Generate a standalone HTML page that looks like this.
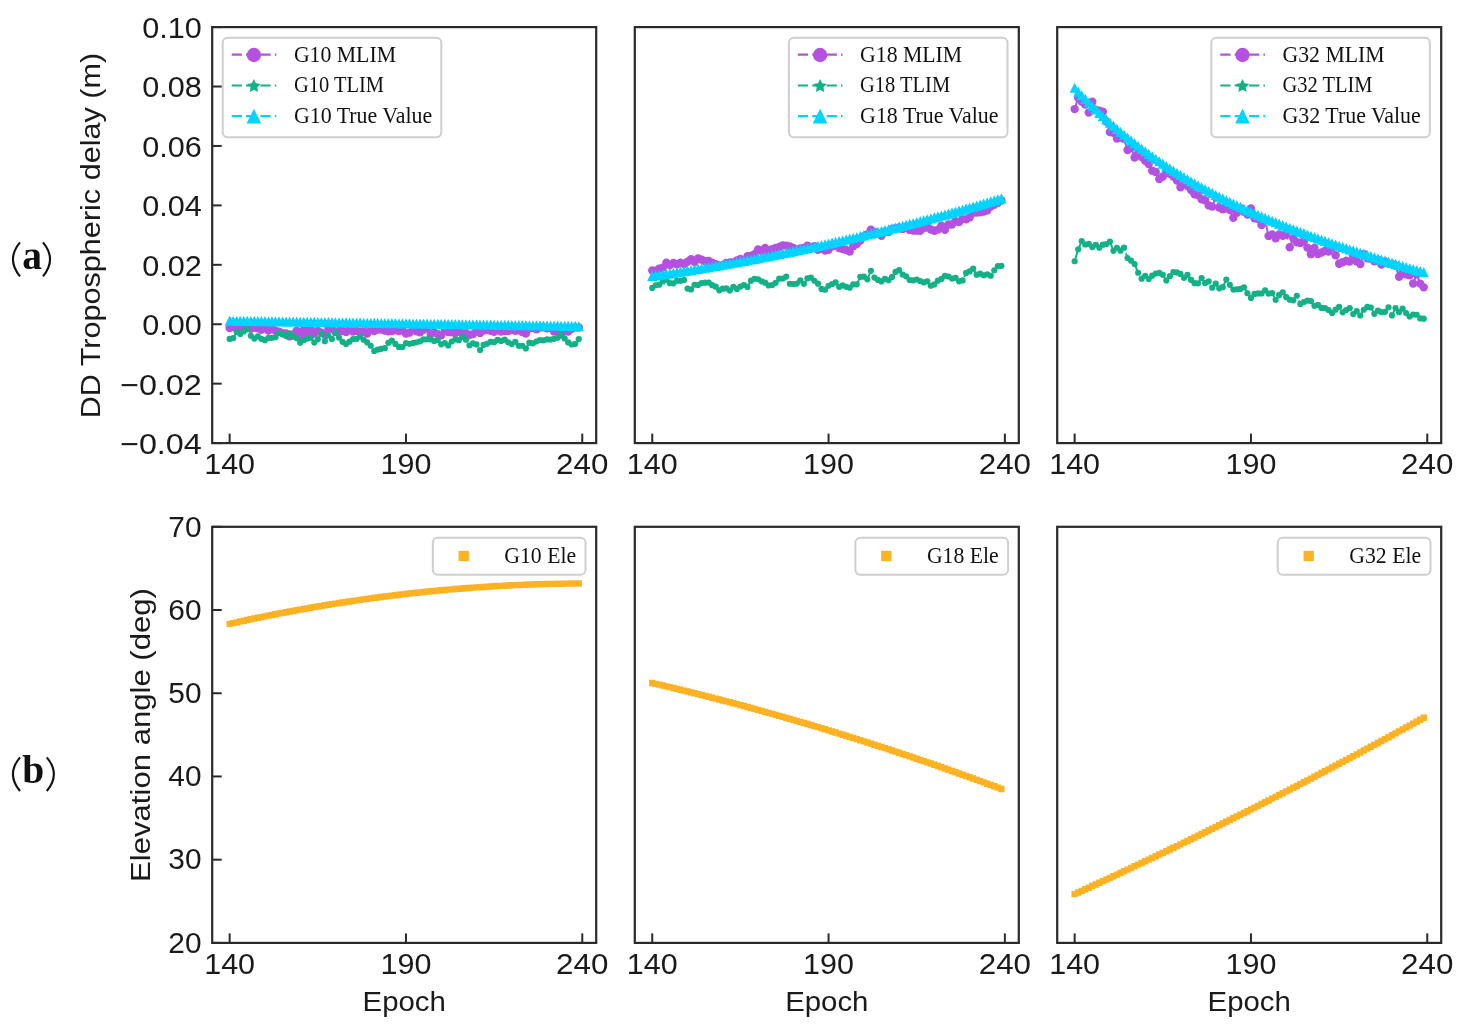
<!DOCTYPE html>
<html><head><meta charset="utf-8"><style>
html,body{margin:0;padding:0;background:#fff;width:1474px;height:1033px;overflow:hidden;font-family:"Liberation Sans",sans-serif}
svg{display:block;filter:blur(0.45px)}
</style></head><body>
<svg width="1474" height="1033" viewBox="0 0 1474 1033">
<rect width="1474" height="1033" fill="#fff"/>
<svg x="212.2" y="27.1" width="384" height="416" overflow="hidden"><g transform="translate(-212.2,-27.1)">
<polyline points="229.65,328.09 233.18,326.85 236.71,328.63 240.23,328.94 243.76,326.49 247.29,326.44 250.81,328.84 254.34,327.64 257.86,328.25 261.39,329.72 264.92,327.68 268.44,330.46 271.97,328.37 275.49,330.75 279.02,331.58 282.55,333.11 286.07,333.43 289.6,336.22 293.13,334.34 296.65,330.66 300.18,336.2 303.7,329.89 307.23,334.8 310.76,329.34 314.28,333.48 317.81,330.83 321.33,332.58 324.86,334.87 328.39,328.76 331.91,328.9 335.44,331.92 338.97,331.04 342.49,330.96 346.02,332.11 349.54,327.72 353.07,331.49 356.6,330.87 360.12,332.29 363.65,331.79 367.18,333.65 370.7,328.36 374.23,331.12 377.75,329.47 381.28,329.54 384.81,330.58 388.33,331.4 391.86,331.01 395.38,330.17 398.91,331.15 402.44,330.34 405.96,333.64 409.49,332.6 413.02,326.44 416.54,331.28 420.07,332.22 423.59,329.73 427.12,328.01 430.65,334.08 434.17,332.41 437.7,334.13 441.22,335.4 444.75,330.12 448.28,332.05 451.8,332.38 455.33,332.92 458.86,331.42 462.38,333.46 465.91,333.26 469.43,335.04 472.96,334.11 476.49,329 480.01,333.03 483.54,330.49 487.07,329.96 490.59,330.88 494.12,331.84 497.64,329.83 501.17,331.44 504.7,331.02 508.22,331.14 511.75,329.77 515.27,330.68 518.8,330.38 522.33,331.97 525.85,333.43 529.38,328.47 532.91,327.88 536.43,329.26 539.96,327.58 543.48,327.33 547.01,328.2 550.54,327.69 554.06,331.51 557.59,328.59 561.11,334.48 564.64,330.84 568.17,331.65 571.69,328.81 575.22,327.44 578.75,327.46" fill="none" stroke="#b451e0" stroke-width="2" stroke-dasharray="9.6 4.7"/>
<circle cx="229.65" cy="328.09" r="4.2" fill="#b451e0"/>
<circle cx="233.18" cy="326.85" r="4.2" fill="#b451e0"/>
<circle cx="236.71" cy="328.63" r="4.2" fill="#b451e0"/>
<circle cx="240.23" cy="328.94" r="4.2" fill="#b451e0"/>
<circle cx="243.76" cy="326.49" r="4.2" fill="#b451e0"/>
<circle cx="247.29" cy="326.44" r="4.2" fill="#b451e0"/>
<circle cx="250.81" cy="328.84" r="4.2" fill="#b451e0"/>
<circle cx="254.34" cy="327.64" r="4.2" fill="#b451e0"/>
<circle cx="257.86" cy="328.25" r="4.2" fill="#b451e0"/>
<circle cx="261.39" cy="329.72" r="4.2" fill="#b451e0"/>
<circle cx="264.92" cy="327.68" r="4.2" fill="#b451e0"/>
<circle cx="268.44" cy="330.46" r="4.2" fill="#b451e0"/>
<circle cx="271.97" cy="328.37" r="4.2" fill="#b451e0"/>
<circle cx="275.49" cy="330.75" r="4.2" fill="#b451e0"/>
<circle cx="279.02" cy="331.58" r="4.2" fill="#b451e0"/>
<circle cx="282.55" cy="333.11" r="4.2" fill="#b451e0"/>
<circle cx="286.07" cy="333.43" r="4.2" fill="#b451e0"/>
<circle cx="289.6" cy="336.22" r="4.2" fill="#b451e0"/>
<circle cx="293.13" cy="334.34" r="4.2" fill="#b451e0"/>
<circle cx="296.65" cy="330.66" r="4.2" fill="#b451e0"/>
<circle cx="300.18" cy="336.2" r="4.2" fill="#b451e0"/>
<circle cx="303.7" cy="329.89" r="4.2" fill="#b451e0"/>
<circle cx="307.23" cy="334.8" r="4.2" fill="#b451e0"/>
<circle cx="310.76" cy="329.34" r="4.2" fill="#b451e0"/>
<circle cx="314.28" cy="333.48" r="4.2" fill="#b451e0"/>
<circle cx="317.81" cy="330.83" r="4.2" fill="#b451e0"/>
<circle cx="321.33" cy="332.58" r="4.2" fill="#b451e0"/>
<circle cx="324.86" cy="334.87" r="4.2" fill="#b451e0"/>
<circle cx="328.39" cy="328.76" r="4.2" fill="#b451e0"/>
<circle cx="331.91" cy="328.9" r="4.2" fill="#b451e0"/>
<circle cx="335.44" cy="331.92" r="4.2" fill="#b451e0"/>
<circle cx="338.97" cy="331.04" r="4.2" fill="#b451e0"/>
<circle cx="342.49" cy="330.96" r="4.2" fill="#b451e0"/>
<circle cx="346.02" cy="332.11" r="4.2" fill="#b451e0"/>
<circle cx="349.54" cy="327.72" r="4.2" fill="#b451e0"/>
<circle cx="353.07" cy="331.49" r="4.2" fill="#b451e0"/>
<circle cx="356.6" cy="330.87" r="4.2" fill="#b451e0"/>
<circle cx="360.12" cy="332.29" r="4.2" fill="#b451e0"/>
<circle cx="363.65" cy="331.79" r="4.2" fill="#b451e0"/>
<circle cx="367.18" cy="333.65" r="4.2" fill="#b451e0"/>
<circle cx="370.7" cy="328.36" r="4.2" fill="#b451e0"/>
<circle cx="374.23" cy="331.12" r="4.2" fill="#b451e0"/>
<circle cx="377.75" cy="329.47" r="4.2" fill="#b451e0"/>
<circle cx="381.28" cy="329.54" r="4.2" fill="#b451e0"/>
<circle cx="384.81" cy="330.58" r="4.2" fill="#b451e0"/>
<circle cx="388.33" cy="331.4" r="4.2" fill="#b451e0"/>
<circle cx="391.86" cy="331.01" r="4.2" fill="#b451e0"/>
<circle cx="395.38" cy="330.17" r="4.2" fill="#b451e0"/>
<circle cx="398.91" cy="331.15" r="4.2" fill="#b451e0"/>
<circle cx="402.44" cy="330.34" r="4.2" fill="#b451e0"/>
<circle cx="405.96" cy="333.64" r="4.2" fill="#b451e0"/>
<circle cx="409.49" cy="332.6" r="4.2" fill="#b451e0"/>
<circle cx="413.02" cy="326.44" r="4.2" fill="#b451e0"/>
<circle cx="416.54" cy="331.28" r="4.2" fill="#b451e0"/>
<circle cx="420.07" cy="332.22" r="4.2" fill="#b451e0"/>
<circle cx="423.59" cy="329.73" r="4.2" fill="#b451e0"/>
<circle cx="427.12" cy="328.01" r="4.2" fill="#b451e0"/>
<circle cx="430.65" cy="334.08" r="4.2" fill="#b451e0"/>
<circle cx="434.17" cy="332.41" r="4.2" fill="#b451e0"/>
<circle cx="437.7" cy="334.13" r="4.2" fill="#b451e0"/>
<circle cx="441.22" cy="335.4" r="4.2" fill="#b451e0"/>
<circle cx="444.75" cy="330.12" r="4.2" fill="#b451e0"/>
<circle cx="448.28" cy="332.05" r="4.2" fill="#b451e0"/>
<circle cx="451.8" cy="332.38" r="4.2" fill="#b451e0"/>
<circle cx="455.33" cy="332.92" r="4.2" fill="#b451e0"/>
<circle cx="458.86" cy="331.42" r="4.2" fill="#b451e0"/>
<circle cx="462.38" cy="333.46" r="4.2" fill="#b451e0"/>
<circle cx="465.91" cy="333.26" r="4.2" fill="#b451e0"/>
<circle cx="469.43" cy="335.04" r="4.2" fill="#b451e0"/>
<circle cx="472.96" cy="334.11" r="4.2" fill="#b451e0"/>
<circle cx="476.49" cy="329" r="4.2" fill="#b451e0"/>
<circle cx="480.01" cy="333.03" r="4.2" fill="#b451e0"/>
<circle cx="483.54" cy="330.49" r="4.2" fill="#b451e0"/>
<circle cx="487.07" cy="329.96" r="4.2" fill="#b451e0"/>
<circle cx="490.59" cy="330.88" r="4.2" fill="#b451e0"/>
<circle cx="494.12" cy="331.84" r="4.2" fill="#b451e0"/>
<circle cx="497.64" cy="329.83" r="4.2" fill="#b451e0"/>
<circle cx="501.17" cy="331.44" r="4.2" fill="#b451e0"/>
<circle cx="504.7" cy="331.02" r="4.2" fill="#b451e0"/>
<circle cx="508.22" cy="331.14" r="4.2" fill="#b451e0"/>
<circle cx="511.75" cy="329.77" r="4.2" fill="#b451e0"/>
<circle cx="515.27" cy="330.68" r="4.2" fill="#b451e0"/>
<circle cx="518.8" cy="330.38" r="4.2" fill="#b451e0"/>
<circle cx="522.33" cy="331.97" r="4.2" fill="#b451e0"/>
<circle cx="525.85" cy="333.43" r="4.2" fill="#b451e0"/>
<circle cx="529.38" cy="328.47" r="4.2" fill="#b451e0"/>
<circle cx="532.91" cy="327.88" r="4.2" fill="#b451e0"/>
<circle cx="536.43" cy="329.26" r="4.2" fill="#b451e0"/>
<circle cx="539.96" cy="327.58" r="4.2" fill="#b451e0"/>
<circle cx="543.48" cy="327.33" r="4.2" fill="#b451e0"/>
<circle cx="547.01" cy="328.2" r="4.2" fill="#b451e0"/>
<circle cx="550.54" cy="327.69" r="4.2" fill="#b451e0"/>
<circle cx="554.06" cy="331.51" r="4.2" fill="#b451e0"/>
<circle cx="557.59" cy="328.59" r="4.2" fill="#b451e0"/>
<circle cx="561.11" cy="334.48" r="4.2" fill="#b451e0"/>
<circle cx="564.64" cy="330.84" r="4.2" fill="#b451e0"/>
<circle cx="568.17" cy="331.65" r="4.2" fill="#b451e0"/>
<circle cx="571.69" cy="328.81" r="4.2" fill="#b451e0"/>
<circle cx="575.22" cy="327.44" r="4.2" fill="#b451e0"/>
<circle cx="578.75" cy="327.46" r="4.2" fill="#b451e0"/>
<polyline points="229.65,338.97 233.18,338.21 236.71,332.02 240.23,333.88 243.76,331.45 247.29,329.28 250.81,335.73 254.34,338.59 257.86,336.39 261.39,338.79 264.92,340.2 268.44,337.95 271.97,337.81 275.49,337.23 279.02,333.09 282.55,334.36 286.07,336.07 289.6,333.44 293.13,336.65 296.65,338.03 300.18,342.72 303.7,340.27 307.23,338.57 310.76,337.86 314.28,342.61 317.81,339.35 321.33,333.58 324.86,341.17 328.39,335.48 331.91,338.89 335.44,332.14 338.97,337.55 342.49,341.8 346.02,343.88 349.54,341.64 353.07,339.01 356.6,338.81 360.12,336.71 363.65,339.77 367.18,342.39 370.7,345.77 374.23,350.95 377.75,349.55 381.28,348.85 384.81,348.17 388.33,342.78 391.86,340.55 395.38,343.93 398.91,346.88 402.44,347.03 405.96,343.13 409.49,343.87 413.02,343.08 416.54,342.27 420.07,341.36 423.59,339.41 427.12,339.28 430.65,339.3 434.17,340.96 437.7,340.17 441.22,344.28 444.75,343.09 448.28,345.4 451.8,341.48 455.33,339.34 458.86,340.2 462.38,336.97 465.91,339.64 469.43,345.28 472.96,343.39 476.49,344.4 480.01,350.05 483.54,344.86 487.07,343.74 490.59,341.8 494.12,342.19 497.64,339.93 501.17,340.93 504.7,339.66 508.22,342.34 511.75,344.11 515.27,341.88 518.8,345.81 522.33,345.74 525.85,348.5 529.38,342.69 532.91,343.34 536.43,341.48 539.96,339.99 543.48,340.31 547.01,339.45 550.54,339.62 554.06,338.86 557.59,337.73 561.11,334.46 564.64,338.41 568.17,342.47 571.69,344.51 575.22,343.84 578.75,339.09" fill="none" stroke="#13b187" stroke-width="2" stroke-dasharray="9.6 4.7"/>
<circle cx="229.65" cy="338.97" r="3.1" fill="#13b187"/>
<circle cx="233.18" cy="338.21" r="3.1" fill="#13b187"/>
<circle cx="236.71" cy="332.02" r="3.1" fill="#13b187"/>
<circle cx="240.23" cy="333.88" r="3.1" fill="#13b187"/>
<circle cx="243.76" cy="331.45" r="3.1" fill="#13b187"/>
<circle cx="247.29" cy="329.28" r="3.1" fill="#13b187"/>
<circle cx="250.81" cy="335.73" r="3.1" fill="#13b187"/>
<circle cx="254.34" cy="338.59" r="3.1" fill="#13b187"/>
<circle cx="257.86" cy="336.39" r="3.1" fill="#13b187"/>
<circle cx="261.39" cy="338.79" r="3.1" fill="#13b187"/>
<circle cx="264.92" cy="340.2" r="3.1" fill="#13b187"/>
<circle cx="268.44" cy="337.95" r="3.1" fill="#13b187"/>
<circle cx="271.97" cy="337.81" r="3.1" fill="#13b187"/>
<circle cx="275.49" cy="337.23" r="3.1" fill="#13b187"/>
<circle cx="279.02" cy="333.09" r="3.1" fill="#13b187"/>
<circle cx="282.55" cy="334.36" r="3.1" fill="#13b187"/>
<circle cx="286.07" cy="336.07" r="3.1" fill="#13b187"/>
<circle cx="289.6" cy="333.44" r="3.1" fill="#13b187"/>
<circle cx="293.13" cy="336.65" r="3.1" fill="#13b187"/>
<circle cx="296.65" cy="338.03" r="3.1" fill="#13b187"/>
<circle cx="300.18" cy="342.72" r="3.1" fill="#13b187"/>
<circle cx="303.7" cy="340.27" r="3.1" fill="#13b187"/>
<circle cx="307.23" cy="338.57" r="3.1" fill="#13b187"/>
<circle cx="310.76" cy="337.86" r="3.1" fill="#13b187"/>
<circle cx="314.28" cy="342.61" r="3.1" fill="#13b187"/>
<circle cx="317.81" cy="339.35" r="3.1" fill="#13b187"/>
<circle cx="321.33" cy="333.58" r="3.1" fill="#13b187"/>
<circle cx="324.86" cy="341.17" r="3.1" fill="#13b187"/>
<circle cx="328.39" cy="335.48" r="3.1" fill="#13b187"/>
<circle cx="331.91" cy="338.89" r="3.1" fill="#13b187"/>
<circle cx="335.44" cy="332.14" r="3.1" fill="#13b187"/>
<circle cx="338.97" cy="337.55" r="3.1" fill="#13b187"/>
<circle cx="342.49" cy="341.8" r="3.1" fill="#13b187"/>
<circle cx="346.02" cy="343.88" r="3.1" fill="#13b187"/>
<circle cx="349.54" cy="341.64" r="3.1" fill="#13b187"/>
<circle cx="353.07" cy="339.01" r="3.1" fill="#13b187"/>
<circle cx="356.6" cy="338.81" r="3.1" fill="#13b187"/>
<circle cx="360.12" cy="336.71" r="3.1" fill="#13b187"/>
<circle cx="363.65" cy="339.77" r="3.1" fill="#13b187"/>
<circle cx="367.18" cy="342.39" r="3.1" fill="#13b187"/>
<circle cx="370.7" cy="345.77" r="3.1" fill="#13b187"/>
<circle cx="374.23" cy="350.95" r="3.1" fill="#13b187"/>
<circle cx="377.75" cy="349.55" r="3.1" fill="#13b187"/>
<circle cx="381.28" cy="348.85" r="3.1" fill="#13b187"/>
<circle cx="384.81" cy="348.17" r="3.1" fill="#13b187"/>
<circle cx="388.33" cy="342.78" r="3.1" fill="#13b187"/>
<circle cx="391.86" cy="340.55" r="3.1" fill="#13b187"/>
<circle cx="395.38" cy="343.93" r="3.1" fill="#13b187"/>
<circle cx="398.91" cy="346.88" r="3.1" fill="#13b187"/>
<circle cx="402.44" cy="347.03" r="3.1" fill="#13b187"/>
<circle cx="405.96" cy="343.13" r="3.1" fill="#13b187"/>
<circle cx="409.49" cy="343.87" r="3.1" fill="#13b187"/>
<circle cx="413.02" cy="343.08" r="3.1" fill="#13b187"/>
<circle cx="416.54" cy="342.27" r="3.1" fill="#13b187"/>
<circle cx="420.07" cy="341.36" r="3.1" fill="#13b187"/>
<circle cx="423.59" cy="339.41" r="3.1" fill="#13b187"/>
<circle cx="427.12" cy="339.28" r="3.1" fill="#13b187"/>
<circle cx="430.65" cy="339.3" r="3.1" fill="#13b187"/>
<circle cx="434.17" cy="340.96" r="3.1" fill="#13b187"/>
<circle cx="437.7" cy="340.17" r="3.1" fill="#13b187"/>
<circle cx="441.22" cy="344.28" r="3.1" fill="#13b187"/>
<circle cx="444.75" cy="343.09" r="3.1" fill="#13b187"/>
<circle cx="448.28" cy="345.4" r="3.1" fill="#13b187"/>
<circle cx="451.8" cy="341.48" r="3.1" fill="#13b187"/>
<circle cx="455.33" cy="339.34" r="3.1" fill="#13b187"/>
<circle cx="458.86" cy="340.2" r="3.1" fill="#13b187"/>
<circle cx="462.38" cy="336.97" r="3.1" fill="#13b187"/>
<circle cx="465.91" cy="339.64" r="3.1" fill="#13b187"/>
<circle cx="469.43" cy="345.28" r="3.1" fill="#13b187"/>
<circle cx="472.96" cy="343.39" r="3.1" fill="#13b187"/>
<circle cx="476.49" cy="344.4" r="3.1" fill="#13b187"/>
<circle cx="480.01" cy="350.05" r="3.1" fill="#13b187"/>
<circle cx="483.54" cy="344.86" r="3.1" fill="#13b187"/>
<circle cx="487.07" cy="343.74" r="3.1" fill="#13b187"/>
<circle cx="490.59" cy="341.8" r="3.1" fill="#13b187"/>
<circle cx="494.12" cy="342.19" r="3.1" fill="#13b187"/>
<circle cx="497.64" cy="339.93" r="3.1" fill="#13b187"/>
<circle cx="501.17" cy="340.93" r="3.1" fill="#13b187"/>
<circle cx="504.7" cy="339.66" r="3.1" fill="#13b187"/>
<circle cx="508.22" cy="342.34" r="3.1" fill="#13b187"/>
<circle cx="511.75" cy="344.11" r="3.1" fill="#13b187"/>
<circle cx="515.27" cy="341.88" r="3.1" fill="#13b187"/>
<circle cx="518.8" cy="345.81" r="3.1" fill="#13b187"/>
<circle cx="522.33" cy="345.74" r="3.1" fill="#13b187"/>
<circle cx="525.85" cy="348.5" r="3.1" fill="#13b187"/>
<circle cx="529.38" cy="342.69" r="3.1" fill="#13b187"/>
<circle cx="532.91" cy="343.34" r="3.1" fill="#13b187"/>
<circle cx="536.43" cy="341.48" r="3.1" fill="#13b187"/>
<circle cx="539.96" cy="339.99" r="3.1" fill="#13b187"/>
<circle cx="543.48" cy="340.31" r="3.1" fill="#13b187"/>
<circle cx="547.01" cy="339.45" r="3.1" fill="#13b187"/>
<circle cx="550.54" cy="339.62" r="3.1" fill="#13b187"/>
<circle cx="554.06" cy="338.86" r="3.1" fill="#13b187"/>
<circle cx="557.59" cy="337.73" r="3.1" fill="#13b187"/>
<circle cx="561.11" cy="334.46" r="3.1" fill="#13b187"/>
<circle cx="564.64" cy="338.41" r="3.1" fill="#13b187"/>
<circle cx="568.17" cy="342.47" r="3.1" fill="#13b187"/>
<circle cx="571.69" cy="344.51" r="3.1" fill="#13b187"/>
<circle cx="575.22" cy="343.84" r="3.1" fill="#13b187"/>
<circle cx="578.75" cy="339.09" r="3.1" fill="#13b187"/>
<polyline points="229.65,320.68 233.18,320.73 236.71,320.79 240.23,320.84 243.76,320.89 247.29,320.95 250.81,321 254.34,321.06 257.86,321.11 261.39,321.16 264.92,321.22 268.44,321.27 271.97,321.33 275.49,321.38 279.02,321.43 282.55,321.49 286.07,321.54 289.6,321.6 293.13,321.65 296.65,321.7 300.18,321.76 303.7,321.81 307.23,321.87 310.76,321.92 314.28,321.97 317.81,322.03 321.33,322.08 324.86,322.14 328.39,322.19 331.91,322.24 335.44,322.3 338.97,322.35 342.49,322.41 346.02,322.46 349.54,322.51 353.07,322.57 356.6,322.62 360.12,322.68 363.65,322.73 367.18,322.78 370.7,322.84 374.23,322.89 377.75,322.95 381.28,323 384.81,323.05 388.33,323.11 391.86,323.16 395.38,323.22 398.91,323.27 402.44,323.32 405.96,323.38 409.49,323.43 413.02,323.49 416.54,323.54 420.07,323.59 423.59,323.65 427.12,323.7 430.65,323.76 434.17,323.81 437.7,323.86 441.22,323.92 444.75,323.97 448.28,324.03 451.8,324.08 455.33,324.13 458.86,324.19 462.38,324.24 465.91,324.3 469.43,324.35 472.96,324.4 476.49,324.46 480.01,324.51 483.54,324.57 487.07,324.62 490.59,324.68 494.12,324.73 497.64,324.78 501.17,324.84 504.7,324.89 508.22,324.95 511.75,325 515.27,325.05 518.8,325.11 522.33,325.16 525.85,325.22 529.38,325.27 532.91,325.32 536.43,325.38 539.96,325.43 543.48,325.49 547.01,325.54 550.54,325.59 554.06,325.65 557.59,325.7 561.11,325.76 564.64,325.81 568.17,325.86 571.69,325.92 575.22,325.97 578.75,326.03" fill="none" stroke="#00d3ff" stroke-width="2" stroke-dasharray="9.6 4.7"/>
<path d="M229.65 315.58L224.55 325.78L234.75 325.78ZM233.18 315.63L228.08 325.83L238.28 325.83ZM236.71 315.69L231.61 325.89L241.81 325.89ZM240.23 315.74L235.13 325.94L245.33 325.94ZM243.76 315.79L238.66 325.99L248.86 325.99ZM247.29 315.85L242.19 326.05L252.39 326.05ZM250.81 315.9L245.71 326.1L255.91 326.1ZM254.34 315.96L249.24 326.16L259.44 326.16ZM257.86 316.01L252.76 326.21L262.96 326.21ZM261.39 316.06L256.29 326.26L266.49 326.26ZM264.92 316.12L259.82 326.32L270.02 326.32ZM268.44 316.17L263.34 326.37L273.54 326.37ZM271.97 316.23L266.87 326.43L277.07 326.43ZM275.49 316.28L270.39 326.48L280.59 326.48ZM279.02 316.33L273.92 326.53L284.12 326.53ZM282.55 316.39L277.45 326.59L287.65 326.59ZM286.07 316.44L280.97 326.64L291.17 326.64ZM289.6 316.5L284.5 326.7L294.7 326.7ZM293.13 316.55L288.03 326.75L298.23 326.75ZM296.65 316.6L291.55 326.8L301.75 326.8ZM300.18 316.66L295.08 326.86L305.28 326.86ZM303.7 316.71L298.6 326.91L308.8 326.91ZM307.23 316.77L302.13 326.97L312.33 326.97ZM310.76 316.82L305.66 327.02L315.86 327.02ZM314.28 316.87L309.18 327.07L319.38 327.07ZM317.81 316.93L312.71 327.13L322.91 327.13ZM321.33 316.98L316.23 327.18L326.43 327.18ZM324.86 317.04L319.76 327.24L329.96 327.24ZM328.39 317.09L323.29 327.29L333.49 327.29ZM331.91 317.14L326.81 327.34L337.01 327.34ZM335.44 317.2L330.34 327.4L340.54 327.4ZM338.97 317.25L333.87 327.45L344.07 327.45ZM342.49 317.31L337.39 327.51L347.59 327.51ZM346.02 317.36L340.92 327.56L351.12 327.56ZM349.54 317.41L344.44 327.61L354.64 327.61ZM353.07 317.47L347.97 327.67L358.17 327.67ZM356.6 317.52L351.5 327.72L361.7 327.72ZM360.12 317.58L355.02 327.78L365.22 327.78ZM363.65 317.63L358.55 327.83L368.75 327.83ZM367.18 317.68L362.08 327.88L372.28 327.88ZM370.7 317.74L365.6 327.94L375.8 327.94ZM374.23 317.79L369.13 327.99L379.33 327.99ZM377.75 317.85L372.65 328.05L382.85 328.05ZM381.28 317.9L376.18 328.1L386.38 328.1ZM384.81 317.95L379.71 328.15L389.91 328.15ZM388.33 318.01L383.23 328.21L393.43 328.21ZM391.86 318.06L386.76 328.26L396.96 328.26ZM395.38 318.12L390.28 328.32L400.48 328.32ZM398.91 318.17L393.81 328.37L404.01 328.37ZM402.44 318.22L397.34 328.42L407.54 328.42ZM405.96 318.28L400.86 328.48L411.06 328.48ZM409.49 318.33L404.39 328.53L414.59 328.53ZM413.02 318.39L407.92 328.59L418.12 328.59ZM416.54 318.44L411.44 328.64L421.64 328.64ZM420.07 318.49L414.97 328.69L425.17 328.69ZM423.59 318.55L418.49 328.75L428.69 328.75ZM427.12 318.6L422.02 328.8L432.22 328.8ZM430.65 318.66L425.55 328.86L435.75 328.86ZM434.17 318.71L429.07 328.91L439.27 328.91ZM437.7 318.76L432.6 328.96L442.8 328.96ZM441.22 318.82L436.12 329.02L446.32 329.02ZM444.75 318.87L439.65 329.07L449.85 329.07ZM448.28 318.93L443.18 329.13L453.38 329.13ZM451.8 318.98L446.7 329.18L456.9 329.18ZM455.33 319.03L450.23 329.23L460.43 329.23ZM458.86 319.09L453.76 329.29L463.96 329.29ZM462.38 319.14L457.28 329.34L467.48 329.34ZM465.91 319.2L460.81 329.4L471.01 329.4ZM469.43 319.25L464.33 329.45L474.53 329.45ZM472.96 319.3L467.86 329.5L478.06 329.5ZM476.49 319.36L471.39 329.56L481.59 329.56ZM480.01 319.41L474.91 329.61L485.11 329.61ZM483.54 319.47L478.44 329.67L488.64 329.67ZM487.07 319.52L481.97 329.72L492.17 329.72ZM490.59 319.58L485.49 329.78L495.69 329.78ZM494.12 319.63L489.02 329.83L499.22 329.83ZM497.64 319.68L492.54 329.88L502.74 329.88ZM501.17 319.74L496.07 329.94L506.27 329.94ZM504.7 319.79L499.6 329.99L509.8 329.99ZM508.22 319.85L503.12 330.05L513.32 330.05ZM511.75 319.9L506.65 330.1L516.85 330.1ZM515.27 319.95L510.17 330.15L520.37 330.15ZM518.8 320.01L513.7 330.21L523.9 330.21ZM522.33 320.06L517.23 330.26L527.43 330.26ZM525.85 320.12L520.75 330.32L530.95 330.32ZM529.38 320.17L524.28 330.37L534.48 330.37ZM532.91 320.22L527.81 330.42L538.01 330.42ZM536.43 320.28L531.33 330.48L541.53 330.48ZM539.96 320.33L534.86 330.53L545.06 330.53ZM543.48 320.39L538.38 330.59L548.58 330.59ZM547.01 320.44L541.91 330.64L552.11 330.64ZM550.54 320.49L545.44 330.69L555.64 330.69ZM554.06 320.55L548.96 330.75L559.16 330.75ZM557.59 320.6L552.49 330.8L562.69 330.8ZM561.11 320.66L556.01 330.86L566.21 330.86ZM564.64 320.71L559.54 330.91L569.74 330.91ZM568.17 320.76L563.07 330.96L573.27 330.96ZM571.69 320.82L566.59 331.02L576.79 331.02ZM575.22 320.87L570.12 331.07L580.32 331.07ZM578.75 320.93L573.65 331.13L583.85 331.13Z" fill="#00d3ff"/>
</g></svg>
<svg x="634.8" y="27.1" width="384" height="416" overflow="hidden"><g transform="translate(-634.8,-27.1)">
<polyline points="652.25,270.57 655.78,270.76 659.31,268.59 662.83,267.58 666.36,262.63 669.89,265.11 673.41,263 676.94,264.24 680.46,262.71 683.99,264.03 687.52,261.68 691.04,259.29 694.57,261.96 698.09,258.55 701.62,259.67 705.15,261.25 708.67,260.93 712.2,262.63 715.73,264.1 719.25,265.78 722.78,265.22 726.3,262.96 729.83,262.45 733.36,262.18 736.88,260.43 740.41,259.01 743.93,260.49 747.46,256.25 750.99,255.84 754.51,254.17 758.04,249.36 761.57,251.1 765.09,248.05 768.62,251.39 772.14,249.31 775.67,248.03 779.2,247.03 782.72,245.34 786.25,245.7 789.78,246.36 793.3,247.97 796.83,249.57 800.35,248.35 803.88,247.84 807.41,245.82 810.93,247.01 814.46,246.09 817.98,249.8 821.51,248.18 825.04,250.43 828.56,249.86 832.09,246.31 835.62,244.4 839.14,248.03 842.67,248.98 846.19,250.05 849.72,251.58 853.25,246.17 856.77,244.11 860.3,240.45 863.82,236.28 867.35,234.31 870.88,229.79 874.4,231.92 877.93,233.55 881.46,235.7 884.98,231.54 888.51,231.98 892.03,229.07 895.56,228.23 899.09,227.54 902.61,229.06 906.14,226.71 909.67,229.91 913.19,230.59 916.72,230.67 920.24,230.88 923.77,228.08 927.3,227.2 930.82,229.56 934.35,230.74 937.87,229.58 941.4,225.72 944.93,229.87 948.45,224.54 951.98,224.45 955.51,221.22 959.03,222.14 962.56,219.08 966.08,219.35 969.61,217.41 973.14,212.83 976.66,212.47 980.19,212.28 983.71,211.51 987.24,210.41 990.77,206.57 994.29,204.83 997.82,202.72 1001.35,200.53" fill="none" stroke="#b451e0" stroke-width="2" stroke-dasharray="9.6 4.7"/>
<circle cx="652.25" cy="270.57" r="4.2" fill="#b451e0"/>
<circle cx="655.78" cy="270.76" r="4.2" fill="#b451e0"/>
<circle cx="659.31" cy="268.59" r="4.2" fill="#b451e0"/>
<circle cx="662.83" cy="267.58" r="4.2" fill="#b451e0"/>
<circle cx="666.36" cy="262.63" r="4.2" fill="#b451e0"/>
<circle cx="669.89" cy="265.11" r="4.2" fill="#b451e0"/>
<circle cx="673.41" cy="263" r="4.2" fill="#b451e0"/>
<circle cx="676.94" cy="264.24" r="4.2" fill="#b451e0"/>
<circle cx="680.46" cy="262.71" r="4.2" fill="#b451e0"/>
<circle cx="683.99" cy="264.03" r="4.2" fill="#b451e0"/>
<circle cx="687.52" cy="261.68" r="4.2" fill="#b451e0"/>
<circle cx="691.04" cy="259.29" r="4.2" fill="#b451e0"/>
<circle cx="694.57" cy="261.96" r="4.2" fill="#b451e0"/>
<circle cx="698.09" cy="258.55" r="4.2" fill="#b451e0"/>
<circle cx="701.62" cy="259.67" r="4.2" fill="#b451e0"/>
<circle cx="705.15" cy="261.25" r="4.2" fill="#b451e0"/>
<circle cx="708.67" cy="260.93" r="4.2" fill="#b451e0"/>
<circle cx="712.2" cy="262.63" r="4.2" fill="#b451e0"/>
<circle cx="715.73" cy="264.1" r="4.2" fill="#b451e0"/>
<circle cx="719.25" cy="265.78" r="4.2" fill="#b451e0"/>
<circle cx="722.78" cy="265.22" r="4.2" fill="#b451e0"/>
<circle cx="726.3" cy="262.96" r="4.2" fill="#b451e0"/>
<circle cx="729.83" cy="262.45" r="4.2" fill="#b451e0"/>
<circle cx="733.36" cy="262.18" r="4.2" fill="#b451e0"/>
<circle cx="736.88" cy="260.43" r="4.2" fill="#b451e0"/>
<circle cx="740.41" cy="259.01" r="4.2" fill="#b451e0"/>
<circle cx="743.93" cy="260.49" r="4.2" fill="#b451e0"/>
<circle cx="747.46" cy="256.25" r="4.2" fill="#b451e0"/>
<circle cx="750.99" cy="255.84" r="4.2" fill="#b451e0"/>
<circle cx="754.51" cy="254.17" r="4.2" fill="#b451e0"/>
<circle cx="758.04" cy="249.36" r="4.2" fill="#b451e0"/>
<circle cx="761.57" cy="251.1" r="4.2" fill="#b451e0"/>
<circle cx="765.09" cy="248.05" r="4.2" fill="#b451e0"/>
<circle cx="768.62" cy="251.39" r="4.2" fill="#b451e0"/>
<circle cx="772.14" cy="249.31" r="4.2" fill="#b451e0"/>
<circle cx="775.67" cy="248.03" r="4.2" fill="#b451e0"/>
<circle cx="779.2" cy="247.03" r="4.2" fill="#b451e0"/>
<circle cx="782.72" cy="245.34" r="4.2" fill="#b451e0"/>
<circle cx="786.25" cy="245.7" r="4.2" fill="#b451e0"/>
<circle cx="789.78" cy="246.36" r="4.2" fill="#b451e0"/>
<circle cx="793.3" cy="247.97" r="4.2" fill="#b451e0"/>
<circle cx="796.83" cy="249.57" r="4.2" fill="#b451e0"/>
<circle cx="800.35" cy="248.35" r="4.2" fill="#b451e0"/>
<circle cx="803.88" cy="247.84" r="4.2" fill="#b451e0"/>
<circle cx="807.41" cy="245.82" r="4.2" fill="#b451e0"/>
<circle cx="810.93" cy="247.01" r="4.2" fill="#b451e0"/>
<circle cx="814.46" cy="246.09" r="4.2" fill="#b451e0"/>
<circle cx="817.98" cy="249.8" r="4.2" fill="#b451e0"/>
<circle cx="821.51" cy="248.18" r="4.2" fill="#b451e0"/>
<circle cx="825.04" cy="250.43" r="4.2" fill="#b451e0"/>
<circle cx="828.56" cy="249.86" r="4.2" fill="#b451e0"/>
<circle cx="832.09" cy="246.31" r="4.2" fill="#b451e0"/>
<circle cx="835.62" cy="244.4" r="4.2" fill="#b451e0"/>
<circle cx="839.14" cy="248.03" r="4.2" fill="#b451e0"/>
<circle cx="842.67" cy="248.98" r="4.2" fill="#b451e0"/>
<circle cx="846.19" cy="250.05" r="4.2" fill="#b451e0"/>
<circle cx="849.72" cy="251.58" r="4.2" fill="#b451e0"/>
<circle cx="853.25" cy="246.17" r="4.2" fill="#b451e0"/>
<circle cx="856.77" cy="244.11" r="4.2" fill="#b451e0"/>
<circle cx="860.3" cy="240.45" r="4.2" fill="#b451e0"/>
<circle cx="863.82" cy="236.28" r="4.2" fill="#b451e0"/>
<circle cx="867.35" cy="234.31" r="4.2" fill="#b451e0"/>
<circle cx="870.88" cy="229.79" r="4.2" fill="#b451e0"/>
<circle cx="874.4" cy="231.92" r="4.2" fill="#b451e0"/>
<circle cx="877.93" cy="233.55" r="4.2" fill="#b451e0"/>
<circle cx="881.46" cy="235.7" r="4.2" fill="#b451e0"/>
<circle cx="884.98" cy="231.54" r="4.2" fill="#b451e0"/>
<circle cx="888.51" cy="231.98" r="4.2" fill="#b451e0"/>
<circle cx="892.03" cy="229.07" r="4.2" fill="#b451e0"/>
<circle cx="895.56" cy="228.23" r="4.2" fill="#b451e0"/>
<circle cx="899.09" cy="227.54" r="4.2" fill="#b451e0"/>
<circle cx="902.61" cy="229.06" r="4.2" fill="#b451e0"/>
<circle cx="906.14" cy="226.71" r="4.2" fill="#b451e0"/>
<circle cx="909.67" cy="229.91" r="4.2" fill="#b451e0"/>
<circle cx="913.19" cy="230.59" r="4.2" fill="#b451e0"/>
<circle cx="916.72" cy="230.67" r="4.2" fill="#b451e0"/>
<circle cx="920.24" cy="230.88" r="4.2" fill="#b451e0"/>
<circle cx="923.77" cy="228.08" r="4.2" fill="#b451e0"/>
<circle cx="927.3" cy="227.2" r="4.2" fill="#b451e0"/>
<circle cx="930.82" cy="229.56" r="4.2" fill="#b451e0"/>
<circle cx="934.35" cy="230.74" r="4.2" fill="#b451e0"/>
<circle cx="937.87" cy="229.58" r="4.2" fill="#b451e0"/>
<circle cx="941.4" cy="225.72" r="4.2" fill="#b451e0"/>
<circle cx="944.93" cy="229.87" r="4.2" fill="#b451e0"/>
<circle cx="948.45" cy="224.54" r="4.2" fill="#b451e0"/>
<circle cx="951.98" cy="224.45" r="4.2" fill="#b451e0"/>
<circle cx="955.51" cy="221.22" r="4.2" fill="#b451e0"/>
<circle cx="959.03" cy="222.14" r="4.2" fill="#b451e0"/>
<circle cx="962.56" cy="219.08" r="4.2" fill="#b451e0"/>
<circle cx="966.08" cy="219.35" r="4.2" fill="#b451e0"/>
<circle cx="969.61" cy="217.41" r="4.2" fill="#b451e0"/>
<circle cx="973.14" cy="212.83" r="4.2" fill="#b451e0"/>
<circle cx="976.66" cy="212.47" r="4.2" fill="#b451e0"/>
<circle cx="980.19" cy="212.28" r="4.2" fill="#b451e0"/>
<circle cx="983.71" cy="211.51" r="4.2" fill="#b451e0"/>
<circle cx="987.24" cy="210.41" r="4.2" fill="#b451e0"/>
<circle cx="990.77" cy="206.57" r="4.2" fill="#b451e0"/>
<circle cx="994.29" cy="204.83" r="4.2" fill="#b451e0"/>
<circle cx="997.82" cy="202.72" r="4.2" fill="#b451e0"/>
<circle cx="1001.35" cy="200.53" r="4.2" fill="#b451e0"/>
<polyline points="652.25,287.88 655.78,285.23 659.31,284.71 662.83,281.49 666.36,279.83 669.89,283.15 673.41,283.35 676.94,280.77 680.46,280.79 683.99,279.95 687.52,288.59 691.04,289.41 694.57,284.75 698.09,285 701.62,283.04 705.15,282.71 708.67,282.62 712.2,285.21 715.73,286.7 719.25,290.32 722.78,288.68 726.3,288.41 729.83,290.46 733.36,286.73 736.88,288.89 740.41,286.62 743.93,284.98 747.46,286.92 750.99,280.65 754.51,278.76 758.04,279.26 761.57,281.3 765.09,282.68 768.62,285.42 772.14,285 775.67,282.78 779.2,278.63 782.72,278.51 786.25,276.61 789.78,283.73 793.3,284.02 796.83,283.53 800.35,280.36 803.88,283.86 807.41,278.34 810.93,277.68 814.46,280.73 817.98,283.65 821.51,288.94 825.04,289.69 828.56,285.73 832.09,284.08 835.62,282.45 839.14,286.87 842.67,285.4 846.19,286.87 849.72,287.71 853.25,284.47 856.77,284.34 860.3,276.78 863.82,276.68 867.35,279.28 870.88,270.86 874.4,277.56 877.93,279.97 881.46,281.4 884.98,278.81 888.51,280.24 892.03,276.93 895.56,271.88 899.09,270.21 902.61,274.56 906.14,276.36 909.67,279.99 913.19,280.32 916.72,279.5 920.24,281.07 923.77,282.47 927.3,281.35 930.82,285.75 934.35,284.42 937.87,280.7 941.4,278.91 944.93,275.81 948.45,276.49 951.98,278.6 955.51,277.85 959.03,281.33 962.56,280.47 966.08,272.97 969.61,271.4 973.14,268.69 976.66,274.64 980.19,273.66 983.71,275.27 987.24,274.34 990.77,275.74 994.29,270.27 997.82,266.22 1001.35,265.8" fill="none" stroke="#13b187" stroke-width="2" stroke-dasharray="9.6 4.7"/>
<circle cx="652.25" cy="287.88" r="3.1" fill="#13b187"/>
<circle cx="655.78" cy="285.23" r="3.1" fill="#13b187"/>
<circle cx="659.31" cy="284.71" r="3.1" fill="#13b187"/>
<circle cx="662.83" cy="281.49" r="3.1" fill="#13b187"/>
<circle cx="666.36" cy="279.83" r="3.1" fill="#13b187"/>
<circle cx="669.89" cy="283.15" r="3.1" fill="#13b187"/>
<circle cx="673.41" cy="283.35" r="3.1" fill="#13b187"/>
<circle cx="676.94" cy="280.77" r="3.1" fill="#13b187"/>
<circle cx="680.46" cy="280.79" r="3.1" fill="#13b187"/>
<circle cx="683.99" cy="279.95" r="3.1" fill="#13b187"/>
<circle cx="687.52" cy="288.59" r="3.1" fill="#13b187"/>
<circle cx="691.04" cy="289.41" r="3.1" fill="#13b187"/>
<circle cx="694.57" cy="284.75" r="3.1" fill="#13b187"/>
<circle cx="698.09" cy="285" r="3.1" fill="#13b187"/>
<circle cx="701.62" cy="283.04" r="3.1" fill="#13b187"/>
<circle cx="705.15" cy="282.71" r="3.1" fill="#13b187"/>
<circle cx="708.67" cy="282.62" r="3.1" fill="#13b187"/>
<circle cx="712.2" cy="285.21" r="3.1" fill="#13b187"/>
<circle cx="715.73" cy="286.7" r="3.1" fill="#13b187"/>
<circle cx="719.25" cy="290.32" r="3.1" fill="#13b187"/>
<circle cx="722.78" cy="288.68" r="3.1" fill="#13b187"/>
<circle cx="726.3" cy="288.41" r="3.1" fill="#13b187"/>
<circle cx="729.83" cy="290.46" r="3.1" fill="#13b187"/>
<circle cx="733.36" cy="286.73" r="3.1" fill="#13b187"/>
<circle cx="736.88" cy="288.89" r="3.1" fill="#13b187"/>
<circle cx="740.41" cy="286.62" r="3.1" fill="#13b187"/>
<circle cx="743.93" cy="284.98" r="3.1" fill="#13b187"/>
<circle cx="747.46" cy="286.92" r="3.1" fill="#13b187"/>
<circle cx="750.99" cy="280.65" r="3.1" fill="#13b187"/>
<circle cx="754.51" cy="278.76" r="3.1" fill="#13b187"/>
<circle cx="758.04" cy="279.26" r="3.1" fill="#13b187"/>
<circle cx="761.57" cy="281.3" r="3.1" fill="#13b187"/>
<circle cx="765.09" cy="282.68" r="3.1" fill="#13b187"/>
<circle cx="768.62" cy="285.42" r="3.1" fill="#13b187"/>
<circle cx="772.14" cy="285" r="3.1" fill="#13b187"/>
<circle cx="775.67" cy="282.78" r="3.1" fill="#13b187"/>
<circle cx="779.2" cy="278.63" r="3.1" fill="#13b187"/>
<circle cx="782.72" cy="278.51" r="3.1" fill="#13b187"/>
<circle cx="786.25" cy="276.61" r="3.1" fill="#13b187"/>
<circle cx="789.78" cy="283.73" r="3.1" fill="#13b187"/>
<circle cx="793.3" cy="284.02" r="3.1" fill="#13b187"/>
<circle cx="796.83" cy="283.53" r="3.1" fill="#13b187"/>
<circle cx="800.35" cy="280.36" r="3.1" fill="#13b187"/>
<circle cx="803.88" cy="283.86" r="3.1" fill="#13b187"/>
<circle cx="807.41" cy="278.34" r="3.1" fill="#13b187"/>
<circle cx="810.93" cy="277.68" r="3.1" fill="#13b187"/>
<circle cx="814.46" cy="280.73" r="3.1" fill="#13b187"/>
<circle cx="817.98" cy="283.65" r="3.1" fill="#13b187"/>
<circle cx="821.51" cy="288.94" r="3.1" fill="#13b187"/>
<circle cx="825.04" cy="289.69" r="3.1" fill="#13b187"/>
<circle cx="828.56" cy="285.73" r="3.1" fill="#13b187"/>
<circle cx="832.09" cy="284.08" r="3.1" fill="#13b187"/>
<circle cx="835.62" cy="282.45" r="3.1" fill="#13b187"/>
<circle cx="839.14" cy="286.87" r="3.1" fill="#13b187"/>
<circle cx="842.67" cy="285.4" r="3.1" fill="#13b187"/>
<circle cx="846.19" cy="286.87" r="3.1" fill="#13b187"/>
<circle cx="849.72" cy="287.71" r="3.1" fill="#13b187"/>
<circle cx="853.25" cy="284.47" r="3.1" fill="#13b187"/>
<circle cx="856.77" cy="284.34" r="3.1" fill="#13b187"/>
<circle cx="860.3" cy="276.78" r="3.1" fill="#13b187"/>
<circle cx="863.82" cy="276.68" r="3.1" fill="#13b187"/>
<circle cx="867.35" cy="279.28" r="3.1" fill="#13b187"/>
<circle cx="870.88" cy="270.86" r="3.1" fill="#13b187"/>
<circle cx="874.4" cy="277.56" r="3.1" fill="#13b187"/>
<circle cx="877.93" cy="279.97" r="3.1" fill="#13b187"/>
<circle cx="881.46" cy="281.4" r="3.1" fill="#13b187"/>
<circle cx="884.98" cy="278.81" r="3.1" fill="#13b187"/>
<circle cx="888.51" cy="280.24" r="3.1" fill="#13b187"/>
<circle cx="892.03" cy="276.93" r="3.1" fill="#13b187"/>
<circle cx="895.56" cy="271.88" r="3.1" fill="#13b187"/>
<circle cx="899.09" cy="270.21" r="3.1" fill="#13b187"/>
<circle cx="902.61" cy="274.56" r="3.1" fill="#13b187"/>
<circle cx="906.14" cy="276.36" r="3.1" fill="#13b187"/>
<circle cx="909.67" cy="279.99" r="3.1" fill="#13b187"/>
<circle cx="913.19" cy="280.32" r="3.1" fill="#13b187"/>
<circle cx="916.72" cy="279.5" r="3.1" fill="#13b187"/>
<circle cx="920.24" cy="281.07" r="3.1" fill="#13b187"/>
<circle cx="923.77" cy="282.47" r="3.1" fill="#13b187"/>
<circle cx="927.3" cy="281.35" r="3.1" fill="#13b187"/>
<circle cx="930.82" cy="285.75" r="3.1" fill="#13b187"/>
<circle cx="934.35" cy="284.42" r="3.1" fill="#13b187"/>
<circle cx="937.87" cy="280.7" r="3.1" fill="#13b187"/>
<circle cx="941.4" cy="278.91" r="3.1" fill="#13b187"/>
<circle cx="944.93" cy="275.81" r="3.1" fill="#13b187"/>
<circle cx="948.45" cy="276.49" r="3.1" fill="#13b187"/>
<circle cx="951.98" cy="278.6" r="3.1" fill="#13b187"/>
<circle cx="955.51" cy="277.85" r="3.1" fill="#13b187"/>
<circle cx="959.03" cy="281.33" r="3.1" fill="#13b187"/>
<circle cx="962.56" cy="280.47" r="3.1" fill="#13b187"/>
<circle cx="966.08" cy="272.97" r="3.1" fill="#13b187"/>
<circle cx="969.61" cy="271.4" r="3.1" fill="#13b187"/>
<circle cx="973.14" cy="268.69" r="3.1" fill="#13b187"/>
<circle cx="976.66" cy="274.64" r="3.1" fill="#13b187"/>
<circle cx="980.19" cy="273.66" r="3.1" fill="#13b187"/>
<circle cx="983.71" cy="275.27" r="3.1" fill="#13b187"/>
<circle cx="987.24" cy="274.34" r="3.1" fill="#13b187"/>
<circle cx="990.77" cy="275.74" r="3.1" fill="#13b187"/>
<circle cx="994.29" cy="270.27" r="3.1" fill="#13b187"/>
<circle cx="997.82" cy="266.22" r="3.1" fill="#13b187"/>
<circle cx="1001.35" cy="265.8" r="3.1" fill="#13b187"/>
<polyline points="652.25,275.94 655.78,275.42 659.31,274.91 662.83,274.38 666.36,273.85 669.89,273.32 673.41,272.78 676.94,272.23 680.46,271.68 683.99,271.12 687.52,270.56 691.04,269.99 694.57,269.41 698.09,268.83 701.62,268.25 705.15,267.66 708.67,267.06 712.2,266.46 715.73,265.85 719.25,265.24 722.78,264.62 726.3,264 729.83,263.37 733.36,262.74 736.88,262.1 740.41,261.45 743.93,260.8 747.46,260.14 750.99,259.48 754.51,258.81 758.04,258.14 761.57,257.46 765.09,256.77 768.62,256.08 772.14,255.39 775.67,254.69 779.2,253.98 782.72,253.27 786.25,252.55 789.78,251.83 793.3,251.1 796.83,250.36 800.35,249.62 803.88,248.88 807.41,248.13 810.93,247.37 814.46,246.61 817.98,245.84 821.51,245.07 825.04,244.29 828.56,243.51 832.09,242.72 835.62,241.92 839.14,241.12 842.67,240.32 846.19,239.5 849.72,238.69 853.25,237.86 856.77,237.04 860.3,236.2 863.82,235.36 867.35,234.52 870.88,233.67 874.4,232.81 877.93,231.95 881.46,231.08 884.98,230.21 888.51,229.33 892.03,228.45 895.56,227.56 899.09,226.66 902.61,225.76 906.14,224.86 909.67,223.95 913.19,223.03 916.72,222.11 920.24,221.18 923.77,220.25 927.3,219.31 930.82,218.36 934.35,217.41 937.87,216.46 941.4,215.5 944.93,214.53 948.45,213.56 951.98,212.58 955.51,211.6 959.03,210.61 962.56,209.62 966.08,208.62 969.61,207.61 973.14,206.6 976.66,205.59 980.19,204.56 983.71,203.54 987.24,202.5 990.77,201.47 994.29,200.42 997.82,199.37 1001.35,198.32" fill="none" stroke="#00d3ff" stroke-width="2" stroke-dasharray="9.6 4.7"/>
<path d="M652.25 270.84L647.15 281.04L657.35 281.04ZM655.78 270.32L650.68 280.52L660.88 280.52ZM659.31 269.81L654.21 280.01L664.41 280.01ZM662.83 269.28L657.73 279.48L667.93 279.48ZM666.36 268.75L661.26 278.95L671.46 278.95ZM669.89 268.22L664.79 278.42L674.99 278.42ZM673.41 267.68L668.31 277.88L678.51 277.88ZM676.94 267.13L671.84 277.33L682.04 277.33ZM680.46 266.58L675.36 276.78L685.56 276.78ZM683.99 266.02L678.89 276.22L689.09 276.22ZM687.52 265.46L682.42 275.66L692.62 275.66ZM691.04 264.89L685.94 275.09L696.14 275.09ZM694.57 264.31L689.47 274.51L699.67 274.51ZM698.09 263.73L692.99 273.93L703.19 273.93ZM701.62 263.15L696.52 273.35L706.72 273.35ZM705.15 262.56L700.05 272.76L710.25 272.76ZM708.67 261.96L703.57 272.16L713.77 272.16ZM712.2 261.36L707.1 271.56L717.3 271.56ZM715.73 260.75L710.63 270.95L720.83 270.95ZM719.25 260.14L714.15 270.34L724.35 270.34ZM722.78 259.52L717.68 269.72L727.88 269.72ZM726.3 258.9L721.2 269.1L731.4 269.1ZM729.83 258.27L724.73 268.47L734.93 268.47ZM733.36 257.64L728.26 267.84L738.46 267.84ZM736.88 257L731.78 267.2L741.98 267.2ZM740.41 256.35L735.31 266.55L745.51 266.55ZM743.93 255.7L738.83 265.9L749.03 265.9ZM747.46 255.04L742.36 265.24L752.56 265.24ZM750.99 254.38L745.89 264.58L756.09 264.58ZM754.51 253.71L749.41 263.91L759.61 263.91ZM758.04 253.04L752.94 263.24L763.14 263.24ZM761.57 252.36L756.47 262.56L766.67 262.56ZM765.09 251.67L759.99 261.87L770.19 261.87ZM768.62 250.98L763.52 261.18L773.72 261.18ZM772.14 250.29L767.04 260.49L777.24 260.49ZM775.67 249.59L770.57 259.79L780.77 259.79ZM779.2 248.88L774.1 259.08L784.3 259.08ZM782.72 248.17L777.62 258.37L787.82 258.37ZM786.25 247.45L781.15 257.65L791.35 257.65ZM789.78 246.73L784.68 256.93L794.88 256.93ZM793.3 246L788.2 256.2L798.4 256.2ZM796.83 245.26L791.73 255.46L801.93 255.46ZM800.35 244.52L795.25 254.72L805.45 254.72ZM803.88 243.78L798.78 253.98L808.98 253.98ZM807.41 243.03L802.31 253.23L812.51 253.23ZM810.93 242.27L805.83 252.47L816.03 252.47ZM814.46 241.51L809.36 251.71L819.56 251.71ZM817.98 240.74L812.88 250.94L823.08 250.94ZM821.51 239.97L816.41 250.17L826.61 250.17ZM825.04 239.19L819.94 249.39L830.14 249.39ZM828.56 238.41L823.46 248.61L833.66 248.61ZM832.09 237.62L826.99 247.82L837.19 247.82ZM835.62 236.82L830.52 247.02L840.72 247.02ZM839.14 236.02L834.04 246.22L844.24 246.22ZM842.67 235.22L837.57 245.42L847.77 245.42ZM846.19 234.4L841.09 244.6L851.29 244.6ZM849.72 233.59L844.62 243.79L854.82 243.79ZM853.25 232.76L848.15 242.96L858.35 242.96ZM856.77 231.94L851.67 242.14L861.87 242.14ZM860.3 231.1L855.2 241.3L865.4 241.3ZM863.82 230.26L858.72 240.46L868.92 240.46ZM867.35 229.42L862.25 239.62L872.45 239.62ZM870.88 228.57L865.78 238.77L875.98 238.77ZM874.4 227.71L869.3 237.91L879.5 237.91ZM877.93 226.85L872.83 237.05L883.03 237.05ZM881.46 225.98L876.36 236.18L886.56 236.18ZM884.98 225.11L879.88 235.31L890.08 235.31ZM888.51 224.23L883.41 234.43L893.61 234.43ZM892.03 223.35L886.93 233.55L897.13 233.55ZM895.56 222.46L890.46 232.66L900.66 232.66ZM899.09 221.56L893.99 231.76L904.19 231.76ZM902.61 220.66L897.51 230.86L907.71 230.86ZM906.14 219.76L901.04 229.96L911.24 229.96ZM909.67 218.85L904.57 229.05L914.77 229.05ZM913.19 217.93L908.09 228.13L918.29 228.13ZM916.72 217.01L911.62 227.21L921.82 227.21ZM920.24 216.08L915.14 226.28L925.34 226.28ZM923.77 215.15L918.67 225.35L928.87 225.35ZM927.3 214.21L922.2 224.41L932.4 224.41ZM930.82 213.26L925.72 223.46L935.92 223.46ZM934.35 212.31L929.25 222.51L939.45 222.51ZM937.87 211.36L932.77 221.56L942.97 221.56ZM941.4 210.4L936.3 220.6L946.5 220.6ZM944.93 209.43L939.83 219.63L950.03 219.63ZM948.45 208.46L943.35 218.66L953.55 218.66ZM951.98 207.48L946.88 217.68L957.08 217.68ZM955.51 206.5L950.41 216.7L960.61 216.7ZM959.03 205.51L953.93 215.71L964.13 215.71ZM962.56 204.52L957.46 214.72L967.66 214.72ZM966.08 203.52L960.98 213.72L971.18 213.72ZM969.61 202.51L964.51 212.71L974.71 212.71ZM973.14 201.5L968.04 211.7L978.24 211.7ZM976.66 200.49L971.56 210.69L981.76 210.69ZM980.19 199.46L975.09 209.66L985.29 209.66ZM983.71 198.44L978.61 208.64L988.81 208.64ZM987.24 197.4L982.14 207.6L992.34 207.6ZM990.77 196.37L985.67 206.57L995.87 206.57ZM994.29 195.32L989.19 205.52L999.39 205.52ZM997.82 194.27L992.72 204.47L1002.92 204.47ZM1001.35 193.22L996.25 203.42L1006.45 203.42Z" fill="#00d3ff"/>
</g></svg>
<svg x="1057.2" y="27.1" width="384" height="416" overflow="hidden"><g transform="translate(-1057.2,-27.1)">
<polyline points="1074.65,109.11 1078.18,97.94 1081.71,101.53 1085.23,104.64 1088.76,112.57 1092.29,101.74 1095.81,109.96 1099.34,110.82 1102.86,111.64 1106.39,121.49 1109.92,132.1 1113.44,132.87 1116.97,138.47 1120.49,137.6 1124.02,139.07 1127.55,150.04 1131.07,147.69 1134.6,157.53 1138.13,153.51 1141.65,157.11 1145.18,160.79 1148.7,163.95 1152.23,170.67 1155.76,172.07 1159.28,179.04 1162.81,176.47 1166.33,171.41 1169.86,173.74 1173.39,176.43 1176.91,180.52 1180.44,187.23 1183.97,180.86 1187.49,185.96 1191.02,190.05 1194.54,194.29 1198.07,195.11 1201.6,199.29 1205.12,200.22 1208.65,205.4 1212.18,206.61 1215.7,197.32 1219.23,207.53 1222.75,209.21 1226.28,207.94 1229.81,210.12 1233.33,217.75 1236.86,212.72 1240.38,208.09 1243.91,211.74 1247.44,214.6 1250.96,208.49 1254.49,218.2 1258.02,219.07 1261.54,225.03 1265.07,220.45 1268.59,235.92 1272.12,234.4 1275.65,238.33 1279.17,234.39 1282.7,235.78 1286.22,234.42 1289.75,247.28 1293.28,238.27 1296.8,242.2 1300.33,242.92 1303.86,241.21 1307.38,247.61 1310.91,254.16 1314.43,247.97 1317.96,254.14 1321.49,252.54 1325.01,250.73 1328.54,251.46 1332.07,246.71 1335.59,255.26 1339.12,263.71 1342.64,262.27 1346.17,260.67 1349.7,261.6 1353.22,256.32 1356.75,261.53 1360.27,263.96 1363.8,254.06 1367.33,258.21 1370.85,258.87 1374.38,261.37 1377.91,259.83 1381.43,264.59 1384.96,261.42 1388.48,263.75 1392.01,264.15 1395.54,265.85 1399.06,276.75 1402.59,273.08 1406.11,274.32 1409.64,275.27 1413.17,283.47 1416.69,274.2 1420.22,283.62 1423.75,287.34" fill="none" stroke="#b451e0" stroke-width="2" stroke-dasharray="9.6 4.7"/>
<circle cx="1074.65" cy="109.11" r="4.2" fill="#b451e0"/>
<circle cx="1078.18" cy="97.94" r="4.2" fill="#b451e0"/>
<circle cx="1081.71" cy="101.53" r="4.2" fill="#b451e0"/>
<circle cx="1085.23" cy="104.64" r="4.2" fill="#b451e0"/>
<circle cx="1088.76" cy="112.57" r="4.2" fill="#b451e0"/>
<circle cx="1092.29" cy="101.74" r="4.2" fill="#b451e0"/>
<circle cx="1095.81" cy="109.96" r="4.2" fill="#b451e0"/>
<circle cx="1099.34" cy="110.82" r="4.2" fill="#b451e0"/>
<circle cx="1102.86" cy="111.64" r="4.2" fill="#b451e0"/>
<circle cx="1106.39" cy="121.49" r="4.2" fill="#b451e0"/>
<circle cx="1109.92" cy="132.1" r="4.2" fill="#b451e0"/>
<circle cx="1113.44" cy="132.87" r="4.2" fill="#b451e0"/>
<circle cx="1116.97" cy="138.47" r="4.2" fill="#b451e0"/>
<circle cx="1120.49" cy="137.6" r="4.2" fill="#b451e0"/>
<circle cx="1124.02" cy="139.07" r="4.2" fill="#b451e0"/>
<circle cx="1127.55" cy="150.04" r="4.2" fill="#b451e0"/>
<circle cx="1131.07" cy="147.69" r="4.2" fill="#b451e0"/>
<circle cx="1134.6" cy="157.53" r="4.2" fill="#b451e0"/>
<circle cx="1138.13" cy="153.51" r="4.2" fill="#b451e0"/>
<circle cx="1141.65" cy="157.11" r="4.2" fill="#b451e0"/>
<circle cx="1145.18" cy="160.79" r="4.2" fill="#b451e0"/>
<circle cx="1148.7" cy="163.95" r="4.2" fill="#b451e0"/>
<circle cx="1152.23" cy="170.67" r="4.2" fill="#b451e0"/>
<circle cx="1155.76" cy="172.07" r="4.2" fill="#b451e0"/>
<circle cx="1159.28" cy="179.04" r="4.2" fill="#b451e0"/>
<circle cx="1162.81" cy="176.47" r="4.2" fill="#b451e0"/>
<circle cx="1166.33" cy="171.41" r="4.2" fill="#b451e0"/>
<circle cx="1169.86" cy="173.74" r="4.2" fill="#b451e0"/>
<circle cx="1173.39" cy="176.43" r="4.2" fill="#b451e0"/>
<circle cx="1176.91" cy="180.52" r="4.2" fill="#b451e0"/>
<circle cx="1180.44" cy="187.23" r="4.2" fill="#b451e0"/>
<circle cx="1183.97" cy="180.86" r="4.2" fill="#b451e0"/>
<circle cx="1187.49" cy="185.96" r="4.2" fill="#b451e0"/>
<circle cx="1191.02" cy="190.05" r="4.2" fill="#b451e0"/>
<circle cx="1194.54" cy="194.29" r="4.2" fill="#b451e0"/>
<circle cx="1198.07" cy="195.11" r="4.2" fill="#b451e0"/>
<circle cx="1201.6" cy="199.29" r="4.2" fill="#b451e0"/>
<circle cx="1205.12" cy="200.22" r="4.2" fill="#b451e0"/>
<circle cx="1208.65" cy="205.4" r="4.2" fill="#b451e0"/>
<circle cx="1212.18" cy="206.61" r="4.2" fill="#b451e0"/>
<circle cx="1215.7" cy="197.32" r="4.2" fill="#b451e0"/>
<circle cx="1219.23" cy="207.53" r="4.2" fill="#b451e0"/>
<circle cx="1222.75" cy="209.21" r="4.2" fill="#b451e0"/>
<circle cx="1226.28" cy="207.94" r="4.2" fill="#b451e0"/>
<circle cx="1229.81" cy="210.12" r="4.2" fill="#b451e0"/>
<circle cx="1233.33" cy="217.75" r="4.2" fill="#b451e0"/>
<circle cx="1236.86" cy="212.72" r="4.2" fill="#b451e0"/>
<circle cx="1240.38" cy="208.09" r="4.2" fill="#b451e0"/>
<circle cx="1243.91" cy="211.74" r="4.2" fill="#b451e0"/>
<circle cx="1247.44" cy="214.6" r="4.2" fill="#b451e0"/>
<circle cx="1250.96" cy="208.49" r="4.2" fill="#b451e0"/>
<circle cx="1254.49" cy="218.2" r="4.2" fill="#b451e0"/>
<circle cx="1258.02" cy="219.07" r="4.2" fill="#b451e0"/>
<circle cx="1261.54" cy="225.03" r="4.2" fill="#b451e0"/>
<circle cx="1265.07" cy="220.45" r="4.2" fill="#b451e0"/>
<circle cx="1268.59" cy="235.92" r="4.2" fill="#b451e0"/>
<circle cx="1272.12" cy="234.4" r="4.2" fill="#b451e0"/>
<circle cx="1275.65" cy="238.33" r="4.2" fill="#b451e0"/>
<circle cx="1279.17" cy="234.39" r="4.2" fill="#b451e0"/>
<circle cx="1282.7" cy="235.78" r="4.2" fill="#b451e0"/>
<circle cx="1286.22" cy="234.42" r="4.2" fill="#b451e0"/>
<circle cx="1289.75" cy="247.28" r="4.2" fill="#b451e0"/>
<circle cx="1293.28" cy="238.27" r="4.2" fill="#b451e0"/>
<circle cx="1296.8" cy="242.2" r="4.2" fill="#b451e0"/>
<circle cx="1300.33" cy="242.92" r="4.2" fill="#b451e0"/>
<circle cx="1303.86" cy="241.21" r="4.2" fill="#b451e0"/>
<circle cx="1307.38" cy="247.61" r="4.2" fill="#b451e0"/>
<circle cx="1310.91" cy="254.16" r="4.2" fill="#b451e0"/>
<circle cx="1314.43" cy="247.97" r="4.2" fill="#b451e0"/>
<circle cx="1317.96" cy="254.14" r="4.2" fill="#b451e0"/>
<circle cx="1321.49" cy="252.54" r="4.2" fill="#b451e0"/>
<circle cx="1325.01" cy="250.73" r="4.2" fill="#b451e0"/>
<circle cx="1328.54" cy="251.46" r="4.2" fill="#b451e0"/>
<circle cx="1332.07" cy="246.71" r="4.2" fill="#b451e0"/>
<circle cx="1335.59" cy="255.26" r="4.2" fill="#b451e0"/>
<circle cx="1339.12" cy="263.71" r="4.2" fill="#b451e0"/>
<circle cx="1342.64" cy="262.27" r="4.2" fill="#b451e0"/>
<circle cx="1346.17" cy="260.67" r="4.2" fill="#b451e0"/>
<circle cx="1349.7" cy="261.6" r="4.2" fill="#b451e0"/>
<circle cx="1353.22" cy="256.32" r="4.2" fill="#b451e0"/>
<circle cx="1356.75" cy="261.53" r="4.2" fill="#b451e0"/>
<circle cx="1360.27" cy="263.96" r="4.2" fill="#b451e0"/>
<circle cx="1363.8" cy="254.06" r="4.2" fill="#b451e0"/>
<circle cx="1367.33" cy="258.21" r="4.2" fill="#b451e0"/>
<circle cx="1370.85" cy="258.87" r="4.2" fill="#b451e0"/>
<circle cx="1374.38" cy="261.37" r="4.2" fill="#b451e0"/>
<circle cx="1377.91" cy="259.83" r="4.2" fill="#b451e0"/>
<circle cx="1381.43" cy="264.59" r="4.2" fill="#b451e0"/>
<circle cx="1384.96" cy="261.42" r="4.2" fill="#b451e0"/>
<circle cx="1388.48" cy="263.75" r="4.2" fill="#b451e0"/>
<circle cx="1392.01" cy="264.15" r="4.2" fill="#b451e0"/>
<circle cx="1395.54" cy="265.85" r="4.2" fill="#b451e0"/>
<circle cx="1399.06" cy="276.75" r="4.2" fill="#b451e0"/>
<circle cx="1402.59" cy="273.08" r="4.2" fill="#b451e0"/>
<circle cx="1406.11" cy="274.32" r="4.2" fill="#b451e0"/>
<circle cx="1409.64" cy="275.27" r="4.2" fill="#b451e0"/>
<circle cx="1413.17" cy="283.47" r="4.2" fill="#b451e0"/>
<circle cx="1416.69" cy="274.2" r="4.2" fill="#b451e0"/>
<circle cx="1420.22" cy="283.62" r="4.2" fill="#b451e0"/>
<circle cx="1423.75" cy="287.34" r="4.2" fill="#b451e0"/>
<polyline points="1074.65,261.27 1078.18,249.31 1081.71,241.01 1085.23,244.51 1088.76,243.74 1092.29,247.11 1095.81,244.75 1099.34,247.65 1102.86,244.72 1106.39,244.08 1109.92,241.72 1113.44,250.87 1116.97,247.77 1120.49,250.67 1124.02,247.63 1127.55,258.02 1131.07,260.71 1134.6,264.01 1138.13,272.77 1141.65,278.65 1145.18,275.74 1148.7,279.08 1152.23,275.65 1155.76,273.54 1159.28,272.84 1162.81,274.8 1166.33,280.49 1169.86,276.22 1173.39,272.1 1176.91,272.45 1180.44,273.96 1183.97,277.85 1187.49,274.82 1191.02,279.91 1194.54,283.15 1198.07,283.36 1201.6,277.98 1205.12,282.94 1208.65,281.46 1212.18,287.63 1215.7,283.6 1219.23,288.35 1222.75,287.21 1226.28,279.53 1229.81,284.82 1233.33,289.53 1236.86,289.23 1240.38,288.95 1243.91,287.27 1247.44,293.26 1250.96,297.92 1254.49,293.93 1258.02,293.41 1261.54,293.49 1265.07,290.26 1268.59,293.59 1272.12,293.1 1275.65,299.78 1279.17,294.92 1282.7,292.26 1286.22,297.18 1289.75,299.72 1293.28,300.31 1296.8,295.76 1300.33,304.12 1303.86,301.99 1307.38,300.59 1310.91,301.03 1314.43,305.83 1317.96,304.91 1321.49,307.93 1325.01,308.04 1328.54,310.08 1332.07,313.02 1335.59,309.63 1339.12,306.9 1342.64,312.32 1346.17,310.1 1349.7,308.15 1353.22,314.05 1356.75,311.07 1360.27,315.51 1363.8,309.73 1367.33,306.97 1370.85,307.5 1374.38,313.83 1377.91,310.64 1381.43,312.15 1384.96,311.87 1388.48,307.24 1392.01,315.42 1395.54,308.03 1399.06,312.15 1402.59,308.65 1406.11,313.11 1409.64,316.5 1413.17,314.51 1416.69,314.73 1420.22,318.39 1423.75,318.63" fill="none" stroke="#13b187" stroke-width="2" stroke-dasharray="9.6 4.7"/>
<circle cx="1074.65" cy="261.27" r="3.1" fill="#13b187"/>
<circle cx="1078.18" cy="249.31" r="3.1" fill="#13b187"/>
<circle cx="1081.71" cy="241.01" r="3.1" fill="#13b187"/>
<circle cx="1085.23" cy="244.51" r="3.1" fill="#13b187"/>
<circle cx="1088.76" cy="243.74" r="3.1" fill="#13b187"/>
<circle cx="1092.29" cy="247.11" r="3.1" fill="#13b187"/>
<circle cx="1095.81" cy="244.75" r="3.1" fill="#13b187"/>
<circle cx="1099.34" cy="247.65" r="3.1" fill="#13b187"/>
<circle cx="1102.86" cy="244.72" r="3.1" fill="#13b187"/>
<circle cx="1106.39" cy="244.08" r="3.1" fill="#13b187"/>
<circle cx="1109.92" cy="241.72" r="3.1" fill="#13b187"/>
<circle cx="1113.44" cy="250.87" r="3.1" fill="#13b187"/>
<circle cx="1116.97" cy="247.77" r="3.1" fill="#13b187"/>
<circle cx="1120.49" cy="250.67" r="3.1" fill="#13b187"/>
<circle cx="1124.02" cy="247.63" r="3.1" fill="#13b187"/>
<circle cx="1127.55" cy="258.02" r="3.1" fill="#13b187"/>
<circle cx="1131.07" cy="260.71" r="3.1" fill="#13b187"/>
<circle cx="1134.6" cy="264.01" r="3.1" fill="#13b187"/>
<circle cx="1138.13" cy="272.77" r="3.1" fill="#13b187"/>
<circle cx="1141.65" cy="278.65" r="3.1" fill="#13b187"/>
<circle cx="1145.18" cy="275.74" r="3.1" fill="#13b187"/>
<circle cx="1148.7" cy="279.08" r="3.1" fill="#13b187"/>
<circle cx="1152.23" cy="275.65" r="3.1" fill="#13b187"/>
<circle cx="1155.76" cy="273.54" r="3.1" fill="#13b187"/>
<circle cx="1159.28" cy="272.84" r="3.1" fill="#13b187"/>
<circle cx="1162.81" cy="274.8" r="3.1" fill="#13b187"/>
<circle cx="1166.33" cy="280.49" r="3.1" fill="#13b187"/>
<circle cx="1169.86" cy="276.22" r="3.1" fill="#13b187"/>
<circle cx="1173.39" cy="272.1" r="3.1" fill="#13b187"/>
<circle cx="1176.91" cy="272.45" r="3.1" fill="#13b187"/>
<circle cx="1180.44" cy="273.96" r="3.1" fill="#13b187"/>
<circle cx="1183.97" cy="277.85" r="3.1" fill="#13b187"/>
<circle cx="1187.49" cy="274.82" r="3.1" fill="#13b187"/>
<circle cx="1191.02" cy="279.91" r="3.1" fill="#13b187"/>
<circle cx="1194.54" cy="283.15" r="3.1" fill="#13b187"/>
<circle cx="1198.07" cy="283.36" r="3.1" fill="#13b187"/>
<circle cx="1201.6" cy="277.98" r="3.1" fill="#13b187"/>
<circle cx="1205.12" cy="282.94" r="3.1" fill="#13b187"/>
<circle cx="1208.65" cy="281.46" r="3.1" fill="#13b187"/>
<circle cx="1212.18" cy="287.63" r="3.1" fill="#13b187"/>
<circle cx="1215.7" cy="283.6" r="3.1" fill="#13b187"/>
<circle cx="1219.23" cy="288.35" r="3.1" fill="#13b187"/>
<circle cx="1222.75" cy="287.21" r="3.1" fill="#13b187"/>
<circle cx="1226.28" cy="279.53" r="3.1" fill="#13b187"/>
<circle cx="1229.81" cy="284.82" r="3.1" fill="#13b187"/>
<circle cx="1233.33" cy="289.53" r="3.1" fill="#13b187"/>
<circle cx="1236.86" cy="289.23" r="3.1" fill="#13b187"/>
<circle cx="1240.38" cy="288.95" r="3.1" fill="#13b187"/>
<circle cx="1243.91" cy="287.27" r="3.1" fill="#13b187"/>
<circle cx="1247.44" cy="293.26" r="3.1" fill="#13b187"/>
<circle cx="1250.96" cy="297.92" r="3.1" fill="#13b187"/>
<circle cx="1254.49" cy="293.93" r="3.1" fill="#13b187"/>
<circle cx="1258.02" cy="293.41" r="3.1" fill="#13b187"/>
<circle cx="1261.54" cy="293.49" r="3.1" fill="#13b187"/>
<circle cx="1265.07" cy="290.26" r="3.1" fill="#13b187"/>
<circle cx="1268.59" cy="293.59" r="3.1" fill="#13b187"/>
<circle cx="1272.12" cy="293.1" r="3.1" fill="#13b187"/>
<circle cx="1275.65" cy="299.78" r="3.1" fill="#13b187"/>
<circle cx="1279.17" cy="294.92" r="3.1" fill="#13b187"/>
<circle cx="1282.7" cy="292.26" r="3.1" fill="#13b187"/>
<circle cx="1286.22" cy="297.18" r="3.1" fill="#13b187"/>
<circle cx="1289.75" cy="299.72" r="3.1" fill="#13b187"/>
<circle cx="1293.28" cy="300.31" r="3.1" fill="#13b187"/>
<circle cx="1296.8" cy="295.76" r="3.1" fill="#13b187"/>
<circle cx="1300.33" cy="304.12" r="3.1" fill="#13b187"/>
<circle cx="1303.86" cy="301.99" r="3.1" fill="#13b187"/>
<circle cx="1307.38" cy="300.59" r="3.1" fill="#13b187"/>
<circle cx="1310.91" cy="301.03" r="3.1" fill="#13b187"/>
<circle cx="1314.43" cy="305.83" r="3.1" fill="#13b187"/>
<circle cx="1317.96" cy="304.91" r="3.1" fill="#13b187"/>
<circle cx="1321.49" cy="307.93" r="3.1" fill="#13b187"/>
<circle cx="1325.01" cy="308.04" r="3.1" fill="#13b187"/>
<circle cx="1328.54" cy="310.08" r="3.1" fill="#13b187"/>
<circle cx="1332.07" cy="313.02" r="3.1" fill="#13b187"/>
<circle cx="1335.59" cy="309.63" r="3.1" fill="#13b187"/>
<circle cx="1339.12" cy="306.9" r="3.1" fill="#13b187"/>
<circle cx="1342.64" cy="312.32" r="3.1" fill="#13b187"/>
<circle cx="1346.17" cy="310.1" r="3.1" fill="#13b187"/>
<circle cx="1349.7" cy="308.15" r="3.1" fill="#13b187"/>
<circle cx="1353.22" cy="314.05" r="3.1" fill="#13b187"/>
<circle cx="1356.75" cy="311.07" r="3.1" fill="#13b187"/>
<circle cx="1360.27" cy="315.51" r="3.1" fill="#13b187"/>
<circle cx="1363.8" cy="309.73" r="3.1" fill="#13b187"/>
<circle cx="1367.33" cy="306.97" r="3.1" fill="#13b187"/>
<circle cx="1370.85" cy="307.5" r="3.1" fill="#13b187"/>
<circle cx="1374.38" cy="313.83" r="3.1" fill="#13b187"/>
<circle cx="1377.91" cy="310.64" r="3.1" fill="#13b187"/>
<circle cx="1381.43" cy="312.15" r="3.1" fill="#13b187"/>
<circle cx="1384.96" cy="311.87" r="3.1" fill="#13b187"/>
<circle cx="1388.48" cy="307.24" r="3.1" fill="#13b187"/>
<circle cx="1392.01" cy="315.42" r="3.1" fill="#13b187"/>
<circle cx="1395.54" cy="308.03" r="3.1" fill="#13b187"/>
<circle cx="1399.06" cy="312.15" r="3.1" fill="#13b187"/>
<circle cx="1402.59" cy="308.65" r="3.1" fill="#13b187"/>
<circle cx="1406.11" cy="313.11" r="3.1" fill="#13b187"/>
<circle cx="1409.64" cy="316.5" r="3.1" fill="#13b187"/>
<circle cx="1413.17" cy="314.51" r="3.1" fill="#13b187"/>
<circle cx="1416.69" cy="314.73" r="3.1" fill="#13b187"/>
<circle cx="1420.22" cy="318.39" r="3.1" fill="#13b187"/>
<circle cx="1423.75" cy="318.63" r="3.1" fill="#13b187"/>
<polyline points="1074.65,87.73 1078.18,91.54 1081.71,95.27 1085.23,98.93 1088.76,102.51 1092.29,106.03 1095.81,109.47 1099.34,112.85 1102.86,116.16 1106.39,119.41 1109.92,122.6 1113.44,125.72 1116.97,128.78 1120.49,131.78 1124.02,134.73 1127.55,137.62 1131.07,140.45 1134.6,143.23 1138.13,145.95 1141.65,148.62 1145.18,151.25 1148.7,153.82 1152.23,156.35 1155.76,158.82 1159.28,161.26 1162.81,163.64 1166.33,165.99 1169.86,168.29 1173.39,170.55 1176.91,172.77 1180.44,174.95 1183.97,177.09 1187.49,179.19 1191.02,181.26 1194.54,183.29 1198.07,185.29 1201.6,187.25 1205.12,189.18 1208.65,191.08 1212.18,192.95 1215.7,194.79 1219.23,196.59 1222.75,198.37 1226.28,200.13 1229.81,201.85 1233.33,203.55 1236.86,205.23 1240.38,206.88 1243.91,208.5 1247.44,210.11 1250.96,211.69 1254.49,213.25 1258.02,214.79 1261.54,216.31 1265.07,217.81 1268.59,219.29 1272.12,220.75 1275.65,222.19 1279.17,223.62 1282.7,225.03 1286.22,226.42 1289.75,227.8 1293.28,229.17 1296.8,230.52 1300.33,231.85 1303.86,233.17 1307.38,234.48 1310.91,235.78 1314.43,237.06 1317.96,238.33 1321.49,239.59 1325.01,240.84 1328.54,242.08 1332.07,243.3 1335.59,244.52 1339.12,245.73 1342.64,246.93 1346.17,248.11 1349.7,249.29 1353.22,250.46 1356.75,251.63 1360.27,252.78 1363.8,253.92 1367.33,255.06 1370.85,256.19 1374.38,257.31 1377.91,258.42 1381.43,259.53 1384.96,260.63 1388.48,261.72 1392.01,262.8 1395.54,263.88 1399.06,264.95 1402.59,266.01 1406.11,267.06 1409.64,268.11 1413.17,269.15 1416.69,270.18 1420.22,271.21 1423.75,272.22" fill="none" stroke="#00d3ff" stroke-width="2" stroke-dasharray="9.6 4.7"/>
<path d="M1074.65 82.63L1069.55 92.83L1079.75 92.83ZM1078.18 86.44L1073.08 96.64L1083.28 96.64ZM1081.71 90.17L1076.61 100.37L1086.81 100.37ZM1085.23 93.83L1080.13 104.03L1090.33 104.03ZM1088.76 97.41L1083.66 107.61L1093.86 107.61ZM1092.29 100.93L1087.19 111.13L1097.39 111.13ZM1095.81 104.37L1090.71 114.57L1100.91 114.57ZM1099.34 107.75L1094.24 117.95L1104.44 117.95ZM1102.86 111.06L1097.76 121.26L1107.96 121.26ZM1106.39 114.31L1101.29 124.51L1111.49 124.51ZM1109.92 117.5L1104.82 127.7L1115.02 127.7ZM1113.44 120.62L1108.34 130.82L1118.54 130.82ZM1116.97 123.68L1111.87 133.88L1122.07 133.88ZM1120.49 126.68L1115.39 136.88L1125.59 136.88ZM1124.02 129.63L1118.92 139.83L1129.12 139.83ZM1127.55 132.52L1122.45 142.72L1132.65 142.72ZM1131.07 135.35L1125.97 145.55L1136.17 145.55ZM1134.6 138.13L1129.5 148.33L1139.7 148.33ZM1138.13 140.85L1133.03 151.05L1143.23 151.05ZM1141.65 143.52L1136.55 153.72L1146.75 153.72ZM1145.18 146.15L1140.08 156.35L1150.28 156.35ZM1148.7 148.72L1143.6 158.92L1153.8 158.92ZM1152.23 151.25L1147.13 161.45L1157.33 161.45ZM1155.76 153.72L1150.66 163.92L1160.86 163.92ZM1159.28 156.16L1154.18 166.36L1164.38 166.36ZM1162.81 158.54L1157.71 168.74L1167.91 168.74ZM1166.33 160.89L1161.23 171.09L1171.43 171.09ZM1169.86 163.19L1164.76 173.39L1174.96 173.39ZM1173.39 165.45L1168.29 175.65L1178.49 175.65ZM1176.91 167.67L1171.81 177.87L1182.01 177.87ZM1180.44 169.85L1175.34 180.05L1185.54 180.05ZM1183.97 171.99L1178.87 182.19L1189.07 182.19ZM1187.49 174.09L1182.39 184.29L1192.59 184.29ZM1191.02 176.16L1185.92 186.36L1196.12 186.36ZM1194.54 178.19L1189.44 188.39L1199.64 188.39ZM1198.07 180.19L1192.97 190.39L1203.17 190.39ZM1201.6 182.15L1196.5 192.35L1206.7 192.35ZM1205.12 184.08L1200.02 194.28L1210.22 194.28ZM1208.65 185.98L1203.55 196.18L1213.75 196.18ZM1212.18 187.85L1207.08 198.05L1217.28 198.05ZM1215.7 189.69L1210.6 199.89L1220.8 199.89ZM1219.23 191.49L1214.13 201.69L1224.33 201.69ZM1222.75 193.27L1217.65 203.47L1227.85 203.47ZM1226.28 195.03L1221.18 205.23L1231.38 205.23ZM1229.81 196.75L1224.71 206.95L1234.91 206.95ZM1233.33 198.45L1228.23 208.65L1238.43 208.65ZM1236.86 200.13L1231.76 210.33L1241.96 210.33ZM1240.38 201.78L1235.28 211.98L1245.48 211.98ZM1243.91 203.4L1238.81 213.6L1249.01 213.6ZM1247.44 205.01L1242.34 215.21L1252.54 215.21ZM1250.96 206.59L1245.86 216.79L1256.06 216.79ZM1254.49 208.15L1249.39 218.35L1259.59 218.35ZM1258.02 209.69L1252.92 219.89L1263.12 219.89ZM1261.54 211.21L1256.44 221.41L1266.64 221.41ZM1265.07 212.71L1259.97 222.91L1270.17 222.91ZM1268.59 214.19L1263.49 224.39L1273.69 224.39ZM1272.12 215.65L1267.02 225.85L1277.22 225.85ZM1275.65 217.09L1270.55 227.29L1280.75 227.29ZM1279.17 218.52L1274.07 228.72L1284.27 228.72ZM1282.7 219.93L1277.6 230.13L1287.8 230.13ZM1286.22 221.32L1281.12 231.52L1291.32 231.52ZM1289.75 222.7L1284.65 232.9L1294.85 232.9ZM1293.28 224.07L1288.18 234.27L1298.38 234.27ZM1296.8 225.42L1291.7 235.62L1301.9 235.62ZM1300.33 226.75L1295.23 236.95L1305.43 236.95ZM1303.86 228.07L1298.76 238.27L1308.96 238.27ZM1307.38 229.38L1302.28 239.58L1312.48 239.58ZM1310.91 230.68L1305.81 240.88L1316.01 240.88ZM1314.43 231.96L1309.33 242.16L1319.53 242.16ZM1317.96 233.23L1312.86 243.43L1323.06 243.43ZM1321.49 234.49L1316.39 244.69L1326.59 244.69ZM1325.01 235.74L1319.91 245.94L1330.11 245.94ZM1328.54 236.98L1323.44 247.18L1333.64 247.18ZM1332.07 238.2L1326.97 248.4L1337.17 248.4ZM1335.59 239.42L1330.49 249.62L1340.69 249.62ZM1339.12 240.63L1334.02 250.83L1344.22 250.83ZM1342.64 241.83L1337.54 252.03L1347.74 252.03ZM1346.17 243.01L1341.07 253.21L1351.27 253.21ZM1349.7 244.19L1344.6 254.39L1354.8 254.39ZM1353.22 245.36L1348.12 255.56L1358.32 255.56ZM1356.75 246.53L1351.65 256.73L1361.85 256.73ZM1360.27 247.68L1355.17 257.88L1365.37 257.88ZM1363.8 248.82L1358.7 259.02L1368.9 259.02ZM1367.33 249.96L1362.23 260.16L1372.43 260.16ZM1370.85 251.09L1365.75 261.29L1375.95 261.29ZM1374.38 252.21L1369.28 262.41L1379.48 262.41ZM1377.91 253.32L1372.81 263.52L1383.01 263.52ZM1381.43 254.43L1376.33 264.63L1386.53 264.63ZM1384.96 255.53L1379.86 265.73L1390.06 265.73ZM1388.48 256.62L1383.38 266.82L1393.58 266.82ZM1392.01 257.7L1386.91 267.9L1397.11 267.9ZM1395.54 258.78L1390.44 268.98L1400.64 268.98ZM1399.06 259.85L1393.96 270.05L1404.16 270.05ZM1402.59 260.91L1397.49 271.11L1407.69 271.11ZM1406.11 261.96L1401.01 272.16L1411.21 272.16ZM1409.64 263.01L1404.54 273.21L1414.74 273.21ZM1413.17 264.05L1408.07 274.25L1418.27 274.25ZM1416.69 265.08L1411.59 275.28L1421.79 275.28ZM1420.22 266.11L1415.12 276.31L1425.32 276.31ZM1423.75 267.12L1418.65 277.32L1428.85 277.32Z" fill="#00d3ff"/>
</g></svg>
<path d="M226.45 620.72h6.4v6.4h-6.4ZM229.98 619.93h6.4v6.4h-6.4ZM233.51 619.15h6.4v6.4h-6.4ZM237.03 618.37h6.4v6.4h-6.4ZM240.56 617.61h6.4v6.4h-6.4ZM244.09 616.85h6.4v6.4h-6.4ZM247.61 616.1h6.4v6.4h-6.4ZM251.14 615.35h6.4v6.4h-6.4ZM254.66 614.62h6.4v6.4h-6.4ZM258.19 613.89h6.4v6.4h-6.4ZM261.72 613.17h6.4v6.4h-6.4ZM265.24 612.46h6.4v6.4h-6.4ZM268.77 611.75h6.4v6.4h-6.4ZM272.29 611.06h6.4v6.4h-6.4ZM275.82 610.37h6.4v6.4h-6.4ZM279.35 609.69h6.4v6.4h-6.4ZM282.87 609.01h6.4v6.4h-6.4ZM286.4 608.35h6.4v6.4h-6.4ZM289.93 607.69h6.4v6.4h-6.4ZM293.45 607.04h6.4v6.4h-6.4ZM296.98 606.4h6.4v6.4h-6.4ZM300.5 605.77h6.4v6.4h-6.4ZM304.03 605.14h6.4v6.4h-6.4ZM307.56 604.52h6.4v6.4h-6.4ZM311.08 603.91h6.4v6.4h-6.4ZM314.61 603.31h6.4v6.4h-6.4ZM318.13 602.71h6.4v6.4h-6.4ZM321.66 602.12h6.4v6.4h-6.4ZM325.19 601.54h6.4v6.4h-6.4ZM328.71 600.97h6.4v6.4h-6.4ZM332.24 600.41h6.4v6.4h-6.4ZM335.77 599.85h6.4v6.4h-6.4ZM339.29 599.3h6.4v6.4h-6.4ZM342.82 598.76h6.4v6.4h-6.4ZM346.34 598.23h6.4v6.4h-6.4ZM349.87 597.7h6.4v6.4h-6.4ZM353.4 597.19h6.4v6.4h-6.4ZM356.92 596.68h6.4v6.4h-6.4ZM360.45 596.17h6.4v6.4h-6.4ZM363.98 595.68h6.4v6.4h-6.4ZM367.5 595.19h6.4v6.4h-6.4ZM371.03 594.72h6.4v6.4h-6.4ZM374.55 594.24h6.4v6.4h-6.4ZM378.08 593.78h6.4v6.4h-6.4ZM381.61 593.33h6.4v6.4h-6.4ZM385.13 592.88h6.4v6.4h-6.4ZM388.66 592.44h6.4v6.4h-6.4ZM392.18 592.01h6.4v6.4h-6.4ZM395.71 591.58h6.4v6.4h-6.4ZM399.24 591.17h6.4v6.4h-6.4ZM402.76 590.76h6.4v6.4h-6.4ZM406.29 590.36h6.4v6.4h-6.4ZM409.82 589.96h6.4v6.4h-6.4ZM413.34 589.58h6.4v6.4h-6.4ZM416.87 589.2h6.4v6.4h-6.4ZM420.39 588.83h6.4v6.4h-6.4ZM423.92 588.47h6.4v6.4h-6.4ZM427.45 588.12h6.4v6.4h-6.4ZM430.97 587.77h6.4v6.4h-6.4ZM434.5 587.43h6.4v6.4h-6.4ZM438.02 587.1h6.4v6.4h-6.4ZM441.55 586.78h6.4v6.4h-6.4ZM445.08 586.46h6.4v6.4h-6.4ZM448.6 586.16h6.4v6.4h-6.4ZM452.13 585.86h6.4v6.4h-6.4ZM455.66 585.56h6.4v6.4h-6.4ZM459.18 585.28h6.4v6.4h-6.4ZM462.71 585h6.4v6.4h-6.4ZM466.23 584.74h6.4v6.4h-6.4ZM469.76 584.47h6.4v6.4h-6.4ZM473.29 584.22h6.4v6.4h-6.4ZM476.81 583.98h6.4v6.4h-6.4ZM480.34 583.74h6.4v6.4h-6.4ZM483.87 583.51h6.4v6.4h-6.4ZM487.39 583.29h6.4v6.4h-6.4ZM490.92 583.07h6.4v6.4h-6.4ZM494.44 582.87h6.4v6.4h-6.4ZM497.97 582.67h6.4v6.4h-6.4ZM501.5 582.48h6.4v6.4h-6.4ZM505.02 582.3h6.4v6.4h-6.4ZM508.55 582.12h6.4v6.4h-6.4ZM512.07 581.95h6.4v6.4h-6.4ZM515.6 581.79h6.4v6.4h-6.4ZM519.13 581.64h6.4v6.4h-6.4ZM522.65 581.5h6.4v6.4h-6.4ZM526.18 581.36h6.4v6.4h-6.4ZM529.71 581.23h6.4v6.4h-6.4ZM533.23 581.11h6.4v6.4h-6.4ZM536.76 581h6.4v6.4h-6.4ZM540.28 580.9h6.4v6.4h-6.4ZM543.81 580.8h6.4v6.4h-6.4ZM547.34 580.71h6.4v6.4h-6.4ZM550.86 580.63h6.4v6.4h-6.4ZM554.39 580.55h6.4v6.4h-6.4ZM557.91 580.49h6.4v6.4h-6.4ZM561.44 580.43h6.4v6.4h-6.4ZM564.97 580.38h6.4v6.4h-6.4ZM568.49 580.34h6.4v6.4h-6.4ZM572.02 580.3h6.4v6.4h-6.4ZM575.55 580.27h6.4v6.4h-6.4Z" fill="#fdb224"/>
<path d="M649.05 679.8h6.4v6.4h-6.4ZM652.58 680.63h6.4v6.4h-6.4ZM656.11 681.46h6.4v6.4h-6.4ZM659.63 682.29h6.4v6.4h-6.4ZM663.16 683.13h6.4v6.4h-6.4ZM666.69 683.97h6.4v6.4h-6.4ZM670.21 684.82h6.4v6.4h-6.4ZM673.74 685.68h6.4v6.4h-6.4ZM677.26 686.54h6.4v6.4h-6.4ZM680.79 687.4h6.4v6.4h-6.4ZM684.32 688.27h6.4v6.4h-6.4ZM687.84 689.14h6.4v6.4h-6.4ZM691.37 690.02h6.4v6.4h-6.4ZM694.89 690.91h6.4v6.4h-6.4ZM698.42 691.8h6.4v6.4h-6.4ZM701.95 692.69h6.4v6.4h-6.4ZM705.47 693.59h6.4v6.4h-6.4ZM709 694.49h6.4v6.4h-6.4ZM712.53 695.4h6.4v6.4h-6.4ZM716.05 696.32h6.4v6.4h-6.4ZM719.58 697.24h6.4v6.4h-6.4ZM723.1 698.16h6.4v6.4h-6.4ZM726.63 699.09h6.4v6.4h-6.4ZM730.16 700.03h6.4v6.4h-6.4ZM733.68 700.97h6.4v6.4h-6.4ZM737.21 701.91h6.4v6.4h-6.4ZM740.73 702.86h6.4v6.4h-6.4ZM744.26 703.81h6.4v6.4h-6.4ZM747.79 704.77h6.4v6.4h-6.4ZM751.31 705.74h6.4v6.4h-6.4ZM754.84 706.71h6.4v6.4h-6.4ZM758.37 707.68h6.4v6.4h-6.4ZM761.89 708.66h6.4v6.4h-6.4ZM765.42 709.65h6.4v6.4h-6.4ZM768.94 710.64h6.4v6.4h-6.4ZM772.47 711.63h6.4v6.4h-6.4ZM776 712.63h6.4v6.4h-6.4ZM779.52 713.64h6.4v6.4h-6.4ZM783.05 714.65h6.4v6.4h-6.4ZM786.58 715.66h6.4v6.4h-6.4ZM790.1 716.68h6.4v6.4h-6.4ZM793.63 717.71h6.4v6.4h-6.4ZM797.15 718.74h6.4v6.4h-6.4ZM800.68 719.77h6.4v6.4h-6.4ZM804.21 720.81h6.4v6.4h-6.4ZM807.73 721.86h6.4v6.4h-6.4ZM811.26 722.91h6.4v6.4h-6.4ZM814.78 723.96h6.4v6.4h-6.4ZM818.31 725.02h6.4v6.4h-6.4ZM821.84 726.09h6.4v6.4h-6.4ZM825.36 727.16h6.4v6.4h-6.4ZM828.89 728.23h6.4v6.4h-6.4ZM832.42 729.31h6.4v6.4h-6.4ZM835.94 730.4h6.4v6.4h-6.4ZM839.47 731.49h6.4v6.4h-6.4ZM842.99 732.58h6.4v6.4h-6.4ZM846.52 733.68h6.4v6.4h-6.4ZM850.05 734.79h6.4v6.4h-6.4ZM853.57 735.9h6.4v6.4h-6.4ZM857.1 737.01h6.4v6.4h-6.4ZM860.62 738.13h6.4v6.4h-6.4ZM864.15 739.26h6.4v6.4h-6.4ZM867.68 740.39h6.4v6.4h-6.4ZM871.2 741.52h6.4v6.4h-6.4ZM874.73 742.66h6.4v6.4h-6.4ZM878.26 743.81h6.4v6.4h-6.4ZM881.78 744.96h6.4v6.4h-6.4ZM885.31 746.12h6.4v6.4h-6.4ZM888.83 747.28h6.4v6.4h-6.4ZM892.36 748.44h6.4v6.4h-6.4ZM895.89 749.61h6.4v6.4h-6.4ZM899.41 750.79h6.4v6.4h-6.4ZM902.94 751.97h6.4v6.4h-6.4ZM906.47 753.15h6.4v6.4h-6.4ZM909.99 754.35h6.4v6.4h-6.4ZM913.52 755.54h6.4v6.4h-6.4ZM917.04 756.74h6.4v6.4h-6.4ZM920.57 757.95h6.4v6.4h-6.4ZM924.1 759.16h6.4v6.4h-6.4ZM927.62 760.37h6.4v6.4h-6.4ZM931.15 761.59h6.4v6.4h-6.4ZM934.67 762.82h6.4v6.4h-6.4ZM938.2 764.05h6.4v6.4h-6.4ZM941.73 765.29h6.4v6.4h-6.4ZM945.25 766.53h6.4v6.4h-6.4ZM948.78 767.77h6.4v6.4h-6.4ZM952.31 769.02h6.4v6.4h-6.4ZM955.83 770.28h6.4v6.4h-6.4ZM959.36 771.54h6.4v6.4h-6.4ZM962.88 772.81h6.4v6.4h-6.4ZM966.41 774.08h6.4v6.4h-6.4ZM969.94 775.35h6.4v6.4h-6.4ZM973.46 776.64h6.4v6.4h-6.4ZM976.99 777.92h6.4v6.4h-6.4ZM980.51 779.21h6.4v6.4h-6.4ZM984.04 780.51h6.4v6.4h-6.4ZM987.57 781.81h6.4v6.4h-6.4ZM991.09 783.12h6.4v6.4h-6.4ZM994.62 784.43h6.4v6.4h-6.4ZM998.15 785.74h6.4v6.4h-6.4Z" fill="#fdb224"/>
<path d="M1071.45 890.93h6.4v6.4h-6.4ZM1074.98 889.33h6.4v6.4h-6.4ZM1078.51 887.71h6.4v6.4h-6.4ZM1082.03 886.1h6.4v6.4h-6.4ZM1085.56 884.48h6.4v6.4h-6.4ZM1089.09 882.86h6.4v6.4h-6.4ZM1092.61 881.24h6.4v6.4h-6.4ZM1096.14 879.61h6.4v6.4h-6.4ZM1099.66 877.97h6.4v6.4h-6.4ZM1103.19 876.34h6.4v6.4h-6.4ZM1106.72 874.7h6.4v6.4h-6.4ZM1110.24 873.06h6.4v6.4h-6.4ZM1113.77 871.41h6.4v6.4h-6.4ZM1117.29 869.76h6.4v6.4h-6.4ZM1120.82 868.11h6.4v6.4h-6.4ZM1124.35 866.45h6.4v6.4h-6.4ZM1127.87 864.79h6.4v6.4h-6.4ZM1131.4 863.12h6.4v6.4h-6.4ZM1134.93 861.46h6.4v6.4h-6.4ZM1138.45 859.78h6.4v6.4h-6.4ZM1141.98 858.11h6.4v6.4h-6.4ZM1145.5 856.43h6.4v6.4h-6.4ZM1149.03 854.75h6.4v6.4h-6.4ZM1152.56 853.06h6.4v6.4h-6.4ZM1156.08 851.37h6.4v6.4h-6.4ZM1159.61 849.68h6.4v6.4h-6.4ZM1163.13 847.99h6.4v6.4h-6.4ZM1166.66 846.29h6.4v6.4h-6.4ZM1170.19 844.58h6.4v6.4h-6.4ZM1173.71 842.88h6.4v6.4h-6.4ZM1177.24 841.17h6.4v6.4h-6.4ZM1180.77 839.45h6.4v6.4h-6.4ZM1184.29 837.73h6.4v6.4h-6.4ZM1187.82 836.01h6.4v6.4h-6.4ZM1191.34 834.29h6.4v6.4h-6.4ZM1194.87 832.56h6.4v6.4h-6.4ZM1198.4 830.83h6.4v6.4h-6.4ZM1201.92 829.09h6.4v6.4h-6.4ZM1205.45 827.36h6.4v6.4h-6.4ZM1208.98 825.61h6.4v6.4h-6.4ZM1212.5 823.87h6.4v6.4h-6.4ZM1216.03 822.12h6.4v6.4h-6.4ZM1219.55 820.37h6.4v6.4h-6.4ZM1223.08 818.61h6.4v6.4h-6.4ZM1226.61 816.85h6.4v6.4h-6.4ZM1230.13 815.09h6.4v6.4h-6.4ZM1233.66 813.32h6.4v6.4h-6.4ZM1237.18 811.55h6.4v6.4h-6.4ZM1240.71 809.77h6.4v6.4h-6.4ZM1244.24 808h6.4v6.4h-6.4ZM1247.76 806.22h6.4v6.4h-6.4ZM1251.29 804.43h6.4v6.4h-6.4ZM1254.82 802.64h6.4v6.4h-6.4ZM1258.34 800.85h6.4v6.4h-6.4ZM1261.87 799.05h6.4v6.4h-6.4ZM1265.39 797.26h6.4v6.4h-6.4ZM1268.92 795.45h6.4v6.4h-6.4ZM1272.45 793.65h6.4v6.4h-6.4ZM1275.97 791.84h6.4v6.4h-6.4ZM1279.5 790.02h6.4v6.4h-6.4ZM1283.02 788.21h6.4v6.4h-6.4ZM1286.55 786.39h6.4v6.4h-6.4ZM1290.08 784.56h6.4v6.4h-6.4ZM1293.6 782.74h6.4v6.4h-6.4ZM1297.13 780.91h6.4v6.4h-6.4ZM1300.66 779.07h6.4v6.4h-6.4ZM1304.18 777.23h6.4v6.4h-6.4ZM1307.71 775.39h6.4v6.4h-6.4ZM1311.23 773.55h6.4v6.4h-6.4ZM1314.76 771.7h6.4v6.4h-6.4ZM1318.29 769.85h6.4v6.4h-6.4ZM1321.81 767.99h6.4v6.4h-6.4ZM1325.34 766.13h6.4v6.4h-6.4ZM1328.87 764.27h6.4v6.4h-6.4ZM1332.39 762.4h6.4v6.4h-6.4ZM1335.92 760.53h6.4v6.4h-6.4ZM1339.44 758.66h6.4v6.4h-6.4ZM1342.97 756.78h6.4v6.4h-6.4ZM1346.5 754.9h6.4v6.4h-6.4ZM1350.02 753.02h6.4v6.4h-6.4ZM1353.55 751.13h6.4v6.4h-6.4ZM1357.07 749.24h6.4v6.4h-6.4ZM1360.6 747.34h6.4v6.4h-6.4ZM1364.13 745.44h6.4v6.4h-6.4ZM1367.65 743.54h6.4v6.4h-6.4ZM1371.18 741.64h6.4v6.4h-6.4ZM1374.71 739.73h6.4v6.4h-6.4ZM1378.23 737.82h6.4v6.4h-6.4ZM1381.76 735.9h6.4v6.4h-6.4ZM1385.28 733.98h6.4v6.4h-6.4ZM1388.81 732.06h6.4v6.4h-6.4ZM1392.34 730.13h6.4v6.4h-6.4ZM1395.86 728.2h6.4v6.4h-6.4ZM1399.39 726.27h6.4v6.4h-6.4ZM1402.91 724.33h6.4v6.4h-6.4ZM1406.44 722.39h6.4v6.4h-6.4ZM1409.97 720.44h6.4v6.4h-6.4ZM1413.49 718.5h6.4v6.4h-6.4ZM1417.02 716.54h6.4v6.4h-6.4ZM1420.55 714.59h6.4v6.4h-6.4Z" fill="#fdb224"/>
<rect x="222.7" y="37.7" width="218.6" height="99.6" rx="5" fill="#fff" stroke="#cfcfcf" stroke-width="2"/>
<line x1="231.7" y1="54.7" x2="276.3" y2="54.7" stroke="#b451e0" stroke-width="2.2" stroke-dasharray="10.2 4.17"/>
<circle cx="253.9" cy="55" r="7.15" fill="#b451e0"/>
<text x="293.9" y="62.1" font-size="23" text-anchor="start" font-family="'Liberation Serif', serif" textLength="102.1" lengthAdjust="spacingAndGlyphs" fill="#111">G10 MLIM</text>
<line x1="231.7" y1="85.5" x2="276.3" y2="85.5" stroke="#13b187" stroke-width="2.2" stroke-dasharray="10.2 4.17"/>
<path d="M253.9 79.1L251.81 83.33L247.15 84.01L250.52 87.3L249.73 91.94L253.9 89.75L258.07 91.94L257.28 87.3L260.65 84.01L255.99 83.33Z" fill="#13b187"/>
<text x="293.9" y="92.4" font-size="23" text-anchor="start" font-family="'Liberation Serif', serif" textLength="90" lengthAdjust="spacingAndGlyphs" fill="#111">G10 TLIM</text>
<line x1="231.7" y1="116.1" x2="276.3" y2="116.1" stroke="#00d3ff" stroke-width="2.2" stroke-dasharray="10.2 4.17"/>
<path d="M253.9 108.8L246.6 123.4L261.2 123.4Z" fill="#00d3ff"/>
<text x="293.9" y="122.7" font-size="23" text-anchor="start" font-family="'Liberation Serif', serif" textLength="138.3" lengthAdjust="spacingAndGlyphs" fill="#111">G10 True Value</text>
<rect x="788.9" y="37.7" width="218.6" height="99.6" rx="5" fill="#fff" stroke="#cfcfcf" stroke-width="2"/>
<line x1="797.9" y1="54.7" x2="842.5" y2="54.7" stroke="#b451e0" stroke-width="2.2" stroke-dasharray="10.2 4.17"/>
<circle cx="820.1" cy="55" r="7.15" fill="#b451e0"/>
<text x="860.1" y="62.1" font-size="23" text-anchor="start" font-family="'Liberation Serif', serif" textLength="102.1" lengthAdjust="spacingAndGlyphs" fill="#111">G18 MLIM</text>
<line x1="797.9" y1="85.5" x2="842.5" y2="85.5" stroke="#13b187" stroke-width="2.2" stroke-dasharray="10.2 4.17"/>
<path d="M820.1 79.1L818.01 83.33L813.35 84.01L816.72 87.3L815.93 91.94L820.1 89.75L824.27 91.94L823.48 87.3L826.85 84.01L822.19 83.33Z" fill="#13b187"/>
<text x="860.1" y="92.4" font-size="23" text-anchor="start" font-family="'Liberation Serif', serif" textLength="90" lengthAdjust="spacingAndGlyphs" fill="#111">G18 TLIM</text>
<line x1="797.9" y1="116.1" x2="842.5" y2="116.1" stroke="#00d3ff" stroke-width="2.2" stroke-dasharray="10.2 4.17"/>
<path d="M820.1 108.8L812.8 123.4L827.4 123.4Z" fill="#00d3ff"/>
<text x="860.1" y="122.7" font-size="23" text-anchor="start" font-family="'Liberation Serif', serif" textLength="138.3" lengthAdjust="spacingAndGlyphs" fill="#111">G18 True Value</text>
<rect x="1211.3" y="37.7" width="218.6" height="99.6" rx="5" fill="#fff" stroke="#cfcfcf" stroke-width="2"/>
<line x1="1220.3" y1="54.7" x2="1264.9" y2="54.7" stroke="#b451e0" stroke-width="2.2" stroke-dasharray="10.2 4.17"/>
<circle cx="1242.5" cy="55" r="7.15" fill="#b451e0"/>
<text x="1282.5" y="62.1" font-size="23" text-anchor="start" font-family="'Liberation Serif', serif" textLength="102.1" lengthAdjust="spacingAndGlyphs" fill="#111">G32 MLIM</text>
<line x1="1220.3" y1="85.5" x2="1264.9" y2="85.5" stroke="#13b187" stroke-width="2.2" stroke-dasharray="10.2 4.17"/>
<path d="M1242.5 79.1L1240.41 83.33L1235.75 84.01L1239.12 87.3L1238.33 91.94L1242.5 89.75L1246.67 91.94L1245.88 87.3L1249.25 84.01L1244.59 83.33Z" fill="#13b187"/>
<text x="1282.5" y="92.4" font-size="23" text-anchor="start" font-family="'Liberation Serif', serif" textLength="90" lengthAdjust="spacingAndGlyphs" fill="#111">G32 TLIM</text>
<line x1="1220.3" y1="116.1" x2="1264.9" y2="116.1" stroke="#00d3ff" stroke-width="2.2" stroke-dasharray="10.2 4.17"/>
<path d="M1242.5 108.8L1235.2 123.4L1249.8 123.4Z" fill="#00d3ff"/>
<text x="1282.5" y="122.7" font-size="23" text-anchor="start" font-family="'Liberation Serif', serif" textLength="138.3" lengthAdjust="spacingAndGlyphs" fill="#111">G32 True Value</text>
<rect x="432.8" y="537.8" width="152.7" height="36.9" rx="5" fill="#fff" stroke="#cfcfcf" stroke-width="2"/>
<rect x="458.55" y="550.85" width="10.3" height="10.3" fill="#fdb224"/>
<text x="504.3" y="562.5" font-size="23" text-anchor="start" font-family="'Liberation Serif', serif" textLength="71.8" lengthAdjust="spacingAndGlyphs" fill="#111">G10 Ele</text>
<rect x="855.4" y="537.8" width="152.7" height="36.9" rx="5" fill="#fff" stroke="#cfcfcf" stroke-width="2"/>
<rect x="881.15" y="550.85" width="10.3" height="10.3" fill="#fdb224"/>
<text x="926.9" y="562.5" font-size="23" text-anchor="start" font-family="'Liberation Serif', serif" textLength="71.8" lengthAdjust="spacingAndGlyphs" fill="#111">G18 Ele</text>
<rect x="1277.8" y="537.8" width="152.7" height="36.9" rx="5" fill="#fff" stroke="#cfcfcf" stroke-width="2"/>
<rect x="1303.55" y="550.85" width="10.3" height="10.3" fill="#fdb224"/>
<text x="1349.3" y="562.5" font-size="23" text-anchor="start" font-family="'Liberation Serif', serif" textLength="71.8" lengthAdjust="spacingAndGlyphs" fill="#111">G32 Ele</text>
<rect x="212.2" y="27.1" width="384" height="416" fill="none" stroke="#2a2a2a" stroke-width="2.2"/>
<line x1="229.65" y1="443.1" x2="229.65" y2="433.6" stroke="#2a2a2a" stroke-width="2"/>
<text x="229.65" y="474.3" font-size="29.7" text-anchor="middle" font-family="'Liberation Sans', sans-serif" textLength="50.9" lengthAdjust="spacingAndGlyphs"  fill="#1a1a1a">140</text>
<line x1="405.96" y1="443.1" x2="405.96" y2="433.6" stroke="#2a2a2a" stroke-width="2"/>
<text x="405.96" y="474.3" font-size="29.7" text-anchor="middle" font-family="'Liberation Sans', sans-serif" textLength="50.9" lengthAdjust="spacingAndGlyphs"  fill="#1a1a1a">190</text>
<line x1="582.27" y1="443.1" x2="582.27" y2="433.6" stroke="#2a2a2a" stroke-width="2"/>
<text x="582.27" y="474.3" font-size="29.7" text-anchor="middle" font-family="'Liberation Sans', sans-serif" textLength="52.3" lengthAdjust="spacingAndGlyphs"  fill="#1a1a1a">240</text>
<line x1="212.2" y1="27.1" x2="221.7" y2="27.1" stroke="#2a2a2a" stroke-width="2"/>
<text x="201.8" y="38" font-size="29.7" text-anchor="end" font-family="'Liberation Sans', sans-serif" textLength="59.6" lengthAdjust="spacingAndGlyphs"  fill="#1a1a1a">0.10</text>
<line x1="212.2" y1="86.53" x2="221.7" y2="86.53" stroke="#2a2a2a" stroke-width="2"/>
<text x="201.8" y="97.43" font-size="29.7" text-anchor="end" font-family="'Liberation Sans', sans-serif" textLength="59.6" lengthAdjust="spacingAndGlyphs"  fill="#1a1a1a">0.08</text>
<line x1="212.2" y1="145.96" x2="221.7" y2="145.96" stroke="#2a2a2a" stroke-width="2"/>
<text x="201.8" y="156.86" font-size="29.7" text-anchor="end" font-family="'Liberation Sans', sans-serif" textLength="59.6" lengthAdjust="spacingAndGlyphs"  fill="#1a1a1a">0.06</text>
<line x1="212.2" y1="205.39" x2="221.7" y2="205.39" stroke="#2a2a2a" stroke-width="2"/>
<text x="201.8" y="216.29" font-size="29.7" text-anchor="end" font-family="'Liberation Sans', sans-serif" textLength="59.6" lengthAdjust="spacingAndGlyphs"  fill="#1a1a1a">0.04</text>
<line x1="212.2" y1="264.81" x2="221.7" y2="264.81" stroke="#2a2a2a" stroke-width="2"/>
<text x="201.8" y="275.71" font-size="29.7" text-anchor="end" font-family="'Liberation Sans', sans-serif" textLength="59.6" lengthAdjust="spacingAndGlyphs"  fill="#1a1a1a">0.02</text>
<line x1="212.2" y1="324.24" x2="221.7" y2="324.24" stroke="#2a2a2a" stroke-width="2"/>
<text x="201.8" y="335.14" font-size="29.7" text-anchor="end" font-family="'Liberation Sans', sans-serif" textLength="59.6" lengthAdjust="spacingAndGlyphs"  fill="#1a1a1a">0.00</text>
<line x1="212.2" y1="383.67" x2="221.7" y2="383.67" stroke="#2a2a2a" stroke-width="2"/>
<text x="201.8" y="394.57" font-size="29.7" text-anchor="end" font-family="'Liberation Sans', sans-serif" textLength="81.8" lengthAdjust="spacingAndGlyphs"  fill="#1a1a1a">−0.02</text>
<line x1="212.2" y1="443.1" x2="221.7" y2="443.1" stroke="#2a2a2a" stroke-width="2"/>
<text x="201.8" y="454" font-size="29.7" text-anchor="end" font-family="'Liberation Sans', sans-serif" textLength="81.8" lengthAdjust="spacingAndGlyphs"  fill="#1a1a1a">−0.04</text>
<rect x="634.8" y="27.1" width="384" height="416" fill="none" stroke="#2a2a2a" stroke-width="2.2"/>
<line x1="652.25" y1="443.1" x2="652.25" y2="433.6" stroke="#2a2a2a" stroke-width="2"/>
<text x="652.25" y="474.3" font-size="29.7" text-anchor="middle" font-family="'Liberation Sans', sans-serif" textLength="50.9" lengthAdjust="spacingAndGlyphs"  fill="#1a1a1a">140</text>
<line x1="828.56" y1="443.1" x2="828.56" y2="433.6" stroke="#2a2a2a" stroke-width="2"/>
<text x="828.56" y="474.3" font-size="29.7" text-anchor="middle" font-family="'Liberation Sans', sans-serif" textLength="50.9" lengthAdjust="spacingAndGlyphs"  fill="#1a1a1a">190</text>
<line x1="1004.87" y1="443.1" x2="1004.87" y2="433.6" stroke="#2a2a2a" stroke-width="2"/>
<text x="1004.87" y="474.3" font-size="29.7" text-anchor="middle" font-family="'Liberation Sans', sans-serif" textLength="52.3" lengthAdjust="spacingAndGlyphs"  fill="#1a1a1a">240</text>
<rect x="1057.2" y="27.1" width="384" height="416" fill="none" stroke="#2a2a2a" stroke-width="2.2"/>
<line x1="1074.65" y1="443.1" x2="1074.65" y2="433.6" stroke="#2a2a2a" stroke-width="2"/>
<text x="1074.65" y="474.3" font-size="29.7" text-anchor="middle" font-family="'Liberation Sans', sans-serif" textLength="50.9" lengthAdjust="spacingAndGlyphs"  fill="#1a1a1a">140</text>
<line x1="1250.96" y1="443.1" x2="1250.96" y2="433.6" stroke="#2a2a2a" stroke-width="2"/>
<text x="1250.96" y="474.3" font-size="29.7" text-anchor="middle" font-family="'Liberation Sans', sans-serif" textLength="50.9" lengthAdjust="spacingAndGlyphs"  fill="#1a1a1a">190</text>
<line x1="1427.27" y1="443.1" x2="1427.27" y2="433.6" stroke="#2a2a2a" stroke-width="2"/>
<text x="1427.27" y="474.3" font-size="29.7" text-anchor="middle" font-family="'Liberation Sans', sans-serif" textLength="52.3" lengthAdjust="spacingAndGlyphs"  fill="#1a1a1a">240</text>
<rect x="212.2" y="526.8" width="384" height="416.1" fill="none" stroke="#2a2a2a" stroke-width="2.2"/>
<line x1="229.65" y1="942.9" x2="229.65" y2="933.4" stroke="#2a2a2a" stroke-width="2"/>
<text x="229.65" y="973.8" font-size="29.7" text-anchor="middle" font-family="'Liberation Sans', sans-serif" textLength="50.9" lengthAdjust="spacingAndGlyphs"  fill="#1a1a1a">140</text>
<line x1="405.96" y1="942.9" x2="405.96" y2="933.4" stroke="#2a2a2a" stroke-width="2"/>
<text x="405.96" y="973.8" font-size="29.7" text-anchor="middle" font-family="'Liberation Sans', sans-serif" textLength="50.9" lengthAdjust="spacingAndGlyphs"  fill="#1a1a1a">190</text>
<line x1="582.27" y1="942.9" x2="582.27" y2="933.4" stroke="#2a2a2a" stroke-width="2"/>
<text x="582.27" y="973.8" font-size="29.7" text-anchor="middle" font-family="'Liberation Sans', sans-serif" textLength="52.3" lengthAdjust="spacingAndGlyphs"  fill="#1a1a1a">240</text>
<line x1="212.2" y1="526.8" x2="221.7" y2="526.8" stroke="#2a2a2a" stroke-width="2"/>
<text x="201.5" y="536.6" font-size="29.7" text-anchor="end" font-family="'Liberation Sans', sans-serif" textLength="33.2" lengthAdjust="spacingAndGlyphs"  fill="#1a1a1a">70</text>
<line x1="212.2" y1="610.02" x2="221.7" y2="610.02" stroke="#2a2a2a" stroke-width="2"/>
<text x="201.5" y="619.82" font-size="29.7" text-anchor="end" font-family="'Liberation Sans', sans-serif" textLength="33.2" lengthAdjust="spacingAndGlyphs"  fill="#1a1a1a">60</text>
<line x1="212.2" y1="693.24" x2="221.7" y2="693.24" stroke="#2a2a2a" stroke-width="2"/>
<text x="201.5" y="703.04" font-size="29.7" text-anchor="end" font-family="'Liberation Sans', sans-serif" textLength="33.2" lengthAdjust="spacingAndGlyphs"  fill="#1a1a1a">50</text>
<line x1="212.2" y1="776.46" x2="221.7" y2="776.46" stroke="#2a2a2a" stroke-width="2"/>
<text x="201.5" y="786.26" font-size="29.7" text-anchor="end" font-family="'Liberation Sans', sans-serif" textLength="33.2" lengthAdjust="spacingAndGlyphs"  fill="#1a1a1a">40</text>
<line x1="212.2" y1="859.68" x2="221.7" y2="859.68" stroke="#2a2a2a" stroke-width="2"/>
<text x="201.5" y="869.48" font-size="29.7" text-anchor="end" font-family="'Liberation Sans', sans-serif" textLength="33.2" lengthAdjust="spacingAndGlyphs"  fill="#1a1a1a">30</text>
<line x1="212.2" y1="942.9" x2="221.7" y2="942.9" stroke="#2a2a2a" stroke-width="2"/>
<text x="201.5" y="952.7" font-size="29.7" text-anchor="end" font-family="'Liberation Sans', sans-serif" textLength="33.2" lengthAdjust="spacingAndGlyphs"  fill="#1a1a1a">20</text>
<rect x="634.8" y="526.8" width="384" height="416.1" fill="none" stroke="#2a2a2a" stroke-width="2.2"/>
<line x1="652.25" y1="942.9" x2="652.25" y2="933.4" stroke="#2a2a2a" stroke-width="2"/>
<text x="652.25" y="973.8" font-size="29.7" text-anchor="middle" font-family="'Liberation Sans', sans-serif" textLength="50.9" lengthAdjust="spacingAndGlyphs"  fill="#1a1a1a">140</text>
<line x1="828.56" y1="942.9" x2="828.56" y2="933.4" stroke="#2a2a2a" stroke-width="2"/>
<text x="828.56" y="973.8" font-size="29.7" text-anchor="middle" font-family="'Liberation Sans', sans-serif" textLength="50.9" lengthAdjust="spacingAndGlyphs"  fill="#1a1a1a">190</text>
<line x1="1004.87" y1="942.9" x2="1004.87" y2="933.4" stroke="#2a2a2a" stroke-width="2"/>
<text x="1004.87" y="973.8" font-size="29.7" text-anchor="middle" font-family="'Liberation Sans', sans-serif" textLength="52.3" lengthAdjust="spacingAndGlyphs"  fill="#1a1a1a">240</text>
<rect x="1057.2" y="526.8" width="384" height="416.1" fill="none" stroke="#2a2a2a" stroke-width="2.2"/>
<line x1="1074.65" y1="942.9" x2="1074.65" y2="933.4" stroke="#2a2a2a" stroke-width="2"/>
<text x="1074.65" y="973.8" font-size="29.7" text-anchor="middle" font-family="'Liberation Sans', sans-serif" textLength="50.9" lengthAdjust="spacingAndGlyphs"  fill="#1a1a1a">140</text>
<line x1="1250.96" y1="942.9" x2="1250.96" y2="933.4" stroke="#2a2a2a" stroke-width="2"/>
<text x="1250.96" y="973.8" font-size="29.7" text-anchor="middle" font-family="'Liberation Sans', sans-serif" textLength="50.9" lengthAdjust="spacingAndGlyphs"  fill="#1a1a1a">190</text>
<line x1="1427.27" y1="942.9" x2="1427.27" y2="933.4" stroke="#2a2a2a" stroke-width="2"/>
<text x="1427.27" y="973.8" font-size="29.7" text-anchor="middle" font-family="'Liberation Sans', sans-serif" textLength="52.3" lengthAdjust="spacingAndGlyphs"  fill="#1a1a1a">240</text>
<text x="404.2" y="1011.2" font-size="28.3" text-anchor="middle" font-family="'Liberation Sans', sans-serif" textLength="83.3" lengthAdjust="spacingAndGlyphs"  fill="#1a1a1a">Epoch</text>
<text x="826.8" y="1011.2" font-size="28.3" text-anchor="middle" font-family="'Liberation Sans', sans-serif" textLength="83.3" lengthAdjust="spacingAndGlyphs"  fill="#1a1a1a">Epoch</text>
<text x="1249.2" y="1011.2" font-size="28.3" text-anchor="middle" font-family="'Liberation Sans', sans-serif" textLength="83.3" lengthAdjust="spacingAndGlyphs"  fill="#1a1a1a">Epoch</text>
<text transform="translate(100.1,235.6) rotate(-90)" x="0" y="0" font-size="27" fill="#1a1a1a" text-anchor="middle" font-family="'Liberation Sans', sans-serif" textLength="365.5" lengthAdjust="spacingAndGlyphs">DD Tropospheric delay (m)</text>
<text transform="translate(149.9,735) rotate(-90)" x="0" y="0" font-size="27" fill="#1a1a1a" text-anchor="middle" font-family="'Liberation Sans', sans-serif" textLength="293.8" lengthAdjust="spacingAndGlyphs">Elevation angle (deg)</text>
<path d="M20 242.3 Q5.9 259.35 20 276.4" fill="none" stroke="#111" stroke-width="2.1"/>
<path d="M43 242.3 Q57.1 259.35 43 276.4" fill="none" stroke="#111" stroke-width="2.1"/>
<text x="22.2" y="268.6" font-size="39.5" text-anchor="start" font-family="'Liberation Serif', serif" font-weight="bold" fill="#111">a</text>
<path d="M20 757.3 Q5.9 774.15 20 791" fill="none" stroke="#111" stroke-width="2.1"/>
<path d="M46.8 757.3 Q60.9 774.15 46.8 791" fill="none" stroke="#111" stroke-width="2.1"/>
<text x="22.3" y="783.3" font-size="39.5" text-anchor="start" font-family="'Liberation Serif', serif" font-weight="bold" fill="#111">b</text>
</svg>
</body></html>
